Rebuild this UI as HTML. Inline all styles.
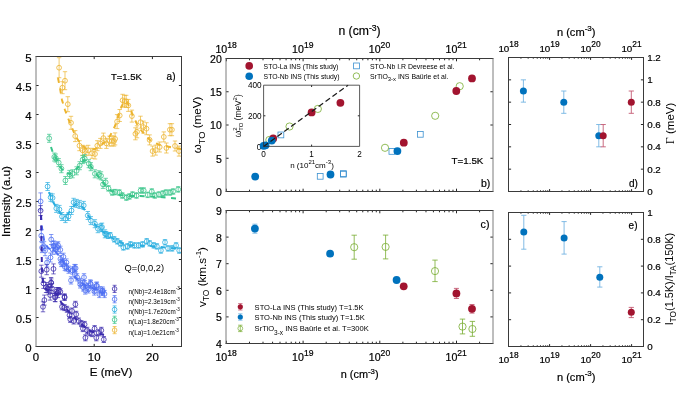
<!DOCTYPE html>
<html><head><meta charset="utf-8"><style>
html,body{margin:0;padding:0;background:#fff;}
svg{display:block;will-change:transform;}
text{font-family:"Liberation Sans", sans-serif;} .b{stroke:#000;stroke-width:0.2px;}
</style></head><body>
<svg width="685" height="394" viewBox="0 0 685 394">
<defs><clipPath id="clipA"><rect x="36" y="56.5" width="145.5" height="290.0"/></clipPath></defs>
<rect width="685" height="394" fill="#fff"/>
<line x1="36.00" y1="317.50" x2="38.60" y2="317.50" stroke="#262626" stroke-width="1" />
<line x1="178.90" y1="317.50" x2="181.50" y2="317.50" stroke="#262626" stroke-width="1" />
<line x1="36.00" y1="288.50" x2="38.60" y2="288.50" stroke="#262626" stroke-width="1" />
<line x1="178.90" y1="288.50" x2="181.50" y2="288.50" stroke="#262626" stroke-width="1" />
<line x1="36.00" y1="259.50" x2="38.60" y2="259.50" stroke="#262626" stroke-width="1" />
<line x1="178.90" y1="259.50" x2="181.50" y2="259.50" stroke="#262626" stroke-width="1" />
<line x1="36.00" y1="230.50" x2="38.60" y2="230.50" stroke="#262626" stroke-width="1" />
<line x1="178.90" y1="230.50" x2="181.50" y2="230.50" stroke="#262626" stroke-width="1" />
<line x1="36.00" y1="201.50" x2="38.60" y2="201.50" stroke="#262626" stroke-width="1" />
<line x1="178.90" y1="201.50" x2="181.50" y2="201.50" stroke="#262626" stroke-width="1" />
<line x1="36.00" y1="172.50" x2="38.60" y2="172.50" stroke="#262626" stroke-width="1" />
<line x1="178.90" y1="172.50" x2="181.50" y2="172.50" stroke="#262626" stroke-width="1" />
<line x1="36.00" y1="143.50" x2="38.60" y2="143.50" stroke="#262626" stroke-width="1" />
<line x1="178.90" y1="143.50" x2="181.50" y2="143.50" stroke="#262626" stroke-width="1" />
<line x1="36.00" y1="114.50" x2="38.60" y2="114.50" stroke="#262626" stroke-width="1" />
<line x1="178.90" y1="114.50" x2="181.50" y2="114.50" stroke="#262626" stroke-width="1" />
<line x1="36.00" y1="85.50" x2="38.60" y2="85.50" stroke="#262626" stroke-width="1" />
<line x1="178.90" y1="85.50" x2="181.50" y2="85.50" stroke="#262626" stroke-width="1" />
<line x1="94.20" y1="346.50" x2="94.20" y2="343.90" stroke="#262626" stroke-width="1" />
<line x1="94.20" y1="56.50" x2="94.20" y2="59.10" stroke="#262626" stroke-width="1" />
<line x1="152.40" y1="346.50" x2="152.40" y2="343.90" stroke="#262626" stroke-width="1" />
<line x1="152.40" y1="56.50" x2="152.40" y2="59.10" stroke="#262626" stroke-width="1" />
<text class="b" x="31.60" y="351.50" font-size="11.4" text-anchor="end" fill="#000">0</text>
<text class="b" x="31.60" y="322.50" font-size="11.4" text-anchor="end" fill="#000">0.5</text>
<text class="b" x="31.60" y="293.50" font-size="11.4" text-anchor="end" fill="#000">1</text>
<text class="b" x="31.60" y="264.50" font-size="11.4" text-anchor="end" fill="#000">1.5</text>
<text class="b" x="31.60" y="235.50" font-size="11.4" text-anchor="end" fill="#000">2</text>
<text class="b" x="31.60" y="206.50" font-size="11.4" text-anchor="end" fill="#000">2.5</text>
<text class="b" x="31.60" y="177.50" font-size="11.4" text-anchor="end" fill="#000">3</text>
<text class="b" x="31.60" y="148.50" font-size="11.4" text-anchor="end" fill="#000">3.5</text>
<text class="b" x="31.60" y="119.50" font-size="11.4" text-anchor="end" fill="#000">4</text>
<text class="b" x="31.60" y="90.50" font-size="11.4" text-anchor="end" fill="#000">4.5</text>
<text class="b" x="31.60" y="61.50" font-size="11.4" text-anchor="end" fill="#000">5</text>
<text class="b" x="36.00" y="361.30" font-size="11.4" text-anchor="middle" fill="#000">0</text>
<text class="b" x="94.20" y="361.30" font-size="11.4" text-anchor="middle" fill="#000">10</text>
<text class="b" x="152.40" y="361.30" font-size="11.4" text-anchor="middle" fill="#000">20</text>
<text class="b" x="111.00" y="376.40" font-size="11.6" text-anchor="middle" fill="#000">E (meV)</text>
<text class="b" x="9.90" y="201.50" font-size="11.7" text-anchor="middle" fill="#000" transform="rotate(-90 9.90 201.50)">Intensity (a.u)</text>
<text class="b" x="110.90" y="79.50" font-size="9.5" text-anchor="start" fill="#000">T=1.5K</text>
<text class="b" x="166.60" y="79.70" font-size="10" text-anchor="start" fill="#000">a)</text>
<text x="124.50" y="271.00" font-size="9.3" text-anchor="start" fill="#000">Q=(0,0,2)</text>
<g clip-path="url(#clipA)">
<line x1="59.10" y1="57.70" x2="59.10" y2="77.70" stroke="#ecb42f" stroke-width="0.7" />
<line x1="56.90" y1="57.70" x2="61.30" y2="57.70" stroke="#ecb42f" stroke-width="0.7" />
<line x1="56.90" y1="77.70" x2="61.30" y2="77.70" stroke="#ecb42f" stroke-width="0.7" />
<circle cx="59.10" cy="67.70" r="2.4" fill="none" stroke="#ecb42f" stroke-width="0.8"/>
<line x1="62.40" y1="81.70" x2="62.40" y2="93.70" stroke="#ecb42f" stroke-width="0.7" />
<line x1="60.20" y1="81.70" x2="64.60" y2="81.70" stroke="#ecb42f" stroke-width="0.7" />
<line x1="60.20" y1="93.70" x2="64.60" y2="93.70" stroke="#ecb42f" stroke-width="0.7" />
<circle cx="62.40" cy="87.70" r="2.4" fill="none" stroke="#ecb42f" stroke-width="0.8"/>
<line x1="65.00" y1="71.70" x2="65.00" y2="89.70" stroke="#ecb42f" stroke-width="0.7" />
<line x1="62.80" y1="71.70" x2="67.20" y2="71.70" stroke="#ecb42f" stroke-width="0.7" />
<line x1="62.80" y1="89.70" x2="67.20" y2="89.70" stroke="#ecb42f" stroke-width="0.7" />
<circle cx="65.00" cy="80.70" r="2.4" fill="none" stroke="#ecb42f" stroke-width="0.8"/>
<line x1="67.80" y1="96.70" x2="67.80" y2="111.70" stroke="#ecb42f" stroke-width="0.7" />
<line x1="65.60" y1="96.70" x2="70.00" y2="96.70" stroke="#ecb42f" stroke-width="0.7" />
<line x1="65.60" y1="111.70" x2="70.00" y2="111.70" stroke="#ecb42f" stroke-width="0.7" />
<circle cx="67.80" cy="104.20" r="2.4" fill="none" stroke="#ecb42f" stroke-width="0.8"/>
<line x1="71.00" y1="116.30" x2="71.00" y2="129.30" stroke="#ecb42f" stroke-width="0.7" />
<line x1="68.80" y1="116.30" x2="73.20" y2="116.30" stroke="#ecb42f" stroke-width="0.7" />
<line x1="68.80" y1="129.30" x2="73.20" y2="129.30" stroke="#ecb42f" stroke-width="0.7" />
<circle cx="71.00" cy="122.80" r="2.4" fill="none" stroke="#ecb42f" stroke-width="0.8"/>
<line x1="75.20" y1="130.60" x2="75.20" y2="141.60" stroke="#ecb42f" stroke-width="0.7" />
<line x1="73.00" y1="130.60" x2="77.40" y2="130.60" stroke="#ecb42f" stroke-width="0.7" />
<line x1="73.00" y1="141.60" x2="77.40" y2="141.60" stroke="#ecb42f" stroke-width="0.7" />
<circle cx="75.20" cy="136.10" r="2.4" fill="none" stroke="#ecb42f" stroke-width="0.8"/>
<line x1="79.50" y1="140.70" x2="79.50" y2="150.70" stroke="#ecb42f" stroke-width="0.7" />
<line x1="77.30" y1="140.70" x2="81.70" y2="140.70" stroke="#ecb42f" stroke-width="0.7" />
<line x1="77.30" y1="150.70" x2="81.70" y2="150.70" stroke="#ecb42f" stroke-width="0.7" />
<circle cx="79.50" cy="145.70" r="2.4" fill="none" stroke="#ecb42f" stroke-width="0.8"/>
<line x1="82.50" y1="145.30" x2="82.50" y2="155.30" stroke="#ecb42f" stroke-width="0.7" />
<line x1="80.30" y1="145.30" x2="84.70" y2="145.30" stroke="#ecb42f" stroke-width="0.7" />
<line x1="80.30" y1="155.30" x2="84.70" y2="155.30" stroke="#ecb42f" stroke-width="0.7" />
<circle cx="82.50" cy="150.30" r="2.4" fill="none" stroke="#ecb42f" stroke-width="0.8"/>
<line x1="85.10" y1="146.00" x2="85.10" y2="156.00" stroke="#ecb42f" stroke-width="0.7" />
<line x1="82.90" y1="146.00" x2="87.30" y2="146.00" stroke="#ecb42f" stroke-width="0.7" />
<line x1="82.90" y1="156.00" x2="87.30" y2="156.00" stroke="#ecb42f" stroke-width="0.7" />
<circle cx="85.10" cy="151.00" r="2.4" fill="none" stroke="#ecb42f" stroke-width="0.8"/>
<line x1="88.20" y1="145.30" x2="88.20" y2="155.30" stroke="#ecb42f" stroke-width="0.7" />
<line x1="86.00" y1="145.30" x2="90.40" y2="145.30" stroke="#ecb42f" stroke-width="0.7" />
<line x1="86.00" y1="155.30" x2="90.40" y2="155.30" stroke="#ecb42f" stroke-width="0.7" />
<circle cx="88.20" cy="150.30" r="2.4" fill="none" stroke="#ecb42f" stroke-width="0.8"/>
<line x1="92.00" y1="148.30" x2="92.00" y2="158.30" stroke="#ecb42f" stroke-width="0.7" />
<line x1="89.80" y1="148.30" x2="94.20" y2="148.30" stroke="#ecb42f" stroke-width="0.7" />
<line x1="89.80" y1="158.30" x2="94.20" y2="158.30" stroke="#ecb42f" stroke-width="0.7" />
<circle cx="92.00" cy="153.30" r="2.4" fill="none" stroke="#ecb42f" stroke-width="0.8"/>
<line x1="95.00" y1="149.00" x2="95.00" y2="159.00" stroke="#ecb42f" stroke-width="0.7" />
<line x1="92.80" y1="149.00" x2="97.20" y2="149.00" stroke="#ecb42f" stroke-width="0.7" />
<line x1="92.80" y1="159.00" x2="97.20" y2="159.00" stroke="#ecb42f" stroke-width="0.7" />
<circle cx="95.00" cy="154.00" r="2.4" fill="none" stroke="#ecb42f" stroke-width="0.8"/>
<line x1="97.30" y1="140.70" x2="97.30" y2="150.70" stroke="#ecb42f" stroke-width="0.7" />
<line x1="95.10" y1="140.70" x2="99.50" y2="140.70" stroke="#ecb42f" stroke-width="0.7" />
<line x1="95.10" y1="150.70" x2="99.50" y2="150.70" stroke="#ecb42f" stroke-width="0.7" />
<circle cx="97.30" cy="145.70" r="2.4" fill="none" stroke="#ecb42f" stroke-width="0.8"/>
<line x1="100.40" y1="138.40" x2="100.40" y2="148.40" stroke="#ecb42f" stroke-width="0.7" />
<line x1="98.20" y1="138.40" x2="102.60" y2="138.40" stroke="#ecb42f" stroke-width="0.7" />
<line x1="98.20" y1="148.40" x2="102.60" y2="148.40" stroke="#ecb42f" stroke-width="0.7" />
<circle cx="100.40" cy="143.40" r="2.4" fill="none" stroke="#ecb42f" stroke-width="0.8"/>
<line x1="103.40" y1="133.10" x2="103.40" y2="143.10" stroke="#ecb42f" stroke-width="0.7" />
<line x1="101.20" y1="133.10" x2="105.60" y2="133.10" stroke="#ecb42f" stroke-width="0.7" />
<line x1="101.20" y1="143.10" x2="105.60" y2="143.10" stroke="#ecb42f" stroke-width="0.7" />
<circle cx="103.40" cy="138.10" r="2.4" fill="none" stroke="#ecb42f" stroke-width="0.8"/>
<line x1="106.40" y1="138.40" x2="106.40" y2="148.40" stroke="#ecb42f" stroke-width="0.7" />
<line x1="104.20" y1="138.40" x2="108.60" y2="138.40" stroke="#ecb42f" stroke-width="0.7" />
<line x1="104.20" y1="148.40" x2="108.60" y2="148.40" stroke="#ecb42f" stroke-width="0.7" />
<circle cx="106.40" cy="143.40" r="2.4" fill="none" stroke="#ecb42f" stroke-width="0.8"/>
<line x1="109.50" y1="136.10" x2="109.50" y2="146.10" stroke="#ecb42f" stroke-width="0.7" />
<line x1="107.30" y1="136.10" x2="111.70" y2="136.10" stroke="#ecb42f" stroke-width="0.7" />
<line x1="107.30" y1="146.10" x2="111.70" y2="146.10" stroke="#ecb42f" stroke-width="0.7" />
<circle cx="109.50" cy="141.10" r="2.4" fill="none" stroke="#ecb42f" stroke-width="0.8"/>
<line x1="112.00" y1="135.90" x2="112.00" y2="145.90" stroke="#ecb42f" stroke-width="0.7" />
<line x1="109.80" y1="135.90" x2="114.20" y2="135.90" stroke="#ecb42f" stroke-width="0.7" />
<line x1="109.80" y1="145.90" x2="114.20" y2="145.90" stroke="#ecb42f" stroke-width="0.7" />
<circle cx="112.00" cy="140.90" r="2.4" fill="none" stroke="#ecb42f" stroke-width="0.8"/>
<line x1="114.00" y1="136.10" x2="114.00" y2="146.10" stroke="#ecb42f" stroke-width="0.7" />
<line x1="111.80" y1="136.10" x2="116.20" y2="136.10" stroke="#ecb42f" stroke-width="0.7" />
<line x1="111.80" y1="146.10" x2="116.20" y2="146.10" stroke="#ecb42f" stroke-width="0.7" />
<circle cx="114.00" cy="141.10" r="2.4" fill="none" stroke="#ecb42f" stroke-width="0.8"/>
<line x1="115.10" y1="132.90" x2="115.10" y2="144.90" stroke="#ecb42f" stroke-width="0.7" />
<line x1="112.90" y1="132.90" x2="117.30" y2="132.90" stroke="#ecb42f" stroke-width="0.7" />
<line x1="112.90" y1="144.90" x2="117.30" y2="144.90" stroke="#ecb42f" stroke-width="0.7" />
<circle cx="115.10" cy="138.90" r="2.4" fill="none" stroke="#ecb42f" stroke-width="0.8"/>
<line x1="117.10" y1="114.60" x2="117.10" y2="128.60" stroke="#ecb42f" stroke-width="0.7" />
<line x1="114.90" y1="114.60" x2="119.30" y2="114.60" stroke="#ecb42f" stroke-width="0.7" />
<line x1="114.90" y1="128.60" x2="119.30" y2="128.60" stroke="#ecb42f" stroke-width="0.7" />
<circle cx="117.10" cy="121.60" r="2.4" fill="none" stroke="#ecb42f" stroke-width="0.8"/>
<line x1="119.70" y1="109.50" x2="119.70" y2="121.50" stroke="#ecb42f" stroke-width="0.7" />
<line x1="117.50" y1="109.50" x2="121.90" y2="109.50" stroke="#ecb42f" stroke-width="0.7" />
<line x1="117.50" y1="121.50" x2="121.90" y2="121.50" stroke="#ecb42f" stroke-width="0.7" />
<circle cx="119.70" cy="115.50" r="2.4" fill="none" stroke="#ecb42f" stroke-width="0.8"/>
<line x1="122.60" y1="94.30" x2="122.60" y2="106.30" stroke="#ecb42f" stroke-width="0.7" />
<line x1="120.40" y1="94.30" x2="124.80" y2="94.30" stroke="#ecb42f" stroke-width="0.7" />
<line x1="120.40" y1="106.30" x2="124.80" y2="106.30" stroke="#ecb42f" stroke-width="0.7" />
<circle cx="122.60" cy="100.30" r="2.4" fill="none" stroke="#ecb42f" stroke-width="0.8"/>
<line x1="124.60" y1="95.30" x2="124.60" y2="107.30" stroke="#ecb42f" stroke-width="0.7" />
<line x1="122.40" y1="95.30" x2="126.80" y2="95.30" stroke="#ecb42f" stroke-width="0.7" />
<line x1="122.40" y1="107.30" x2="126.80" y2="107.30" stroke="#ecb42f" stroke-width="0.7" />
<circle cx="124.60" cy="101.30" r="2.4" fill="none" stroke="#ecb42f" stroke-width="0.8"/>
<line x1="126.20" y1="95.30" x2="126.20" y2="107.30" stroke="#ecb42f" stroke-width="0.7" />
<line x1="124.00" y1="95.30" x2="128.40" y2="95.30" stroke="#ecb42f" stroke-width="0.7" />
<line x1="124.00" y1="107.30" x2="128.40" y2="107.30" stroke="#ecb42f" stroke-width="0.7" />
<circle cx="126.20" cy="101.30" r="2.4" fill="none" stroke="#ecb42f" stroke-width="0.8"/>
<line x1="128.30" y1="99.40" x2="128.30" y2="111.40" stroke="#ecb42f" stroke-width="0.7" />
<line x1="126.10" y1="99.40" x2="130.50" y2="99.40" stroke="#ecb42f" stroke-width="0.7" />
<line x1="126.10" y1="111.40" x2="130.50" y2="111.40" stroke="#ecb42f" stroke-width="0.7" />
<circle cx="128.30" cy="105.40" r="2.4" fill="none" stroke="#ecb42f" stroke-width="0.8"/>
<line x1="131.90" y1="110.10" x2="131.90" y2="122.10" stroke="#ecb42f" stroke-width="0.7" />
<line x1="129.70" y1="110.10" x2="134.10" y2="110.10" stroke="#ecb42f" stroke-width="0.7" />
<line x1="129.70" y1="122.10" x2="134.10" y2="122.10" stroke="#ecb42f" stroke-width="0.7" />
<circle cx="131.90" cy="116.10" r="2.4" fill="none" stroke="#ecb42f" stroke-width="0.8"/>
<line x1="135.40" y1="127.80" x2="135.40" y2="139.80" stroke="#ecb42f" stroke-width="0.7" />
<line x1="133.20" y1="127.80" x2="137.60" y2="127.80" stroke="#ecb42f" stroke-width="0.7" />
<line x1="133.20" y1="139.80" x2="137.60" y2="139.80" stroke="#ecb42f" stroke-width="0.7" />
<circle cx="135.40" cy="133.80" r="2.4" fill="none" stroke="#ecb42f" stroke-width="0.8"/>
<line x1="137.00" y1="125.80" x2="137.00" y2="137.80" stroke="#ecb42f" stroke-width="0.7" />
<line x1="134.80" y1="125.80" x2="139.20" y2="125.80" stroke="#ecb42f" stroke-width="0.7" />
<line x1="134.80" y1="137.80" x2="139.20" y2="137.80" stroke="#ecb42f" stroke-width="0.7" />
<circle cx="137.00" cy="131.80" r="2.4" fill="none" stroke="#ecb42f" stroke-width="0.8"/>
<line x1="140.50" y1="116.20" x2="140.50" y2="128.20" stroke="#ecb42f" stroke-width="0.7" />
<line x1="138.30" y1="116.20" x2="142.70" y2="116.20" stroke="#ecb42f" stroke-width="0.7" />
<line x1="138.30" y1="128.20" x2="142.70" y2="128.20" stroke="#ecb42f" stroke-width="0.7" />
<circle cx="140.50" cy="122.20" r="2.4" fill="none" stroke="#ecb42f" stroke-width="0.8"/>
<line x1="143.50" y1="121.10" x2="143.50" y2="133.10" stroke="#ecb42f" stroke-width="0.7" />
<line x1="141.30" y1="121.10" x2="145.70" y2="121.10" stroke="#ecb42f" stroke-width="0.7" />
<line x1="141.30" y1="133.10" x2="145.70" y2="133.10" stroke="#ecb42f" stroke-width="0.7" />
<circle cx="143.50" cy="127.10" r="2.4" fill="none" stroke="#ecb42f" stroke-width="0.8"/>
<line x1="146.50" y1="122.70" x2="146.50" y2="134.70" stroke="#ecb42f" stroke-width="0.7" />
<line x1="144.30" y1="122.70" x2="148.70" y2="122.70" stroke="#ecb42f" stroke-width="0.7" />
<line x1="144.30" y1="134.70" x2="148.70" y2="134.70" stroke="#ecb42f" stroke-width="0.7" />
<circle cx="146.50" cy="128.70" r="2.4" fill="none" stroke="#ecb42f" stroke-width="0.8"/>
<line x1="149.60" y1="134.90" x2="149.60" y2="144.90" stroke="#ecb42f" stroke-width="0.7" />
<line x1="147.40" y1="134.90" x2="151.80" y2="134.90" stroke="#ecb42f" stroke-width="0.7" />
<line x1="147.40" y1="144.90" x2="151.80" y2="144.90" stroke="#ecb42f" stroke-width="0.7" />
<circle cx="149.60" cy="139.90" r="2.4" fill="none" stroke="#ecb42f" stroke-width="0.8"/>
<line x1="152.60" y1="146.10" x2="152.60" y2="156.10" stroke="#ecb42f" stroke-width="0.7" />
<line x1="150.40" y1="146.10" x2="154.80" y2="146.10" stroke="#ecb42f" stroke-width="0.7" />
<line x1="150.40" y1="156.10" x2="154.80" y2="156.10" stroke="#ecb42f" stroke-width="0.7" />
<circle cx="152.60" cy="151.10" r="2.4" fill="none" stroke="#ecb42f" stroke-width="0.8"/>
<line x1="155.70" y1="145.10" x2="155.70" y2="155.10" stroke="#ecb42f" stroke-width="0.7" />
<line x1="153.50" y1="145.10" x2="157.90" y2="145.10" stroke="#ecb42f" stroke-width="0.7" />
<line x1="153.50" y1="155.10" x2="157.90" y2="155.10" stroke="#ecb42f" stroke-width="0.7" />
<circle cx="155.70" cy="150.10" r="2.4" fill="none" stroke="#ecb42f" stroke-width="0.8"/>
<line x1="159.70" y1="142.00" x2="159.70" y2="152.00" stroke="#ecb42f" stroke-width="0.7" />
<line x1="157.50" y1="142.00" x2="161.90" y2="142.00" stroke="#ecb42f" stroke-width="0.7" />
<line x1="157.50" y1="152.00" x2="161.90" y2="152.00" stroke="#ecb42f" stroke-width="0.7" />
<circle cx="159.70" cy="147.00" r="2.4" fill="none" stroke="#ecb42f" stroke-width="0.8"/>
<line x1="163.80" y1="131.90" x2="163.80" y2="141.90" stroke="#ecb42f" stroke-width="0.7" />
<line x1="161.60" y1="131.90" x2="166.00" y2="131.90" stroke="#ecb42f" stroke-width="0.7" />
<line x1="161.60" y1="141.90" x2="166.00" y2="141.90" stroke="#ecb42f" stroke-width="0.7" />
<circle cx="163.80" cy="136.90" r="2.4" fill="none" stroke="#ecb42f" stroke-width="0.8"/>
<line x1="166.40" y1="143.00" x2="166.40" y2="153.00" stroke="#ecb42f" stroke-width="0.7" />
<line x1="164.20" y1="143.00" x2="168.60" y2="143.00" stroke="#ecb42f" stroke-width="0.7" />
<line x1="164.20" y1="153.00" x2="168.60" y2="153.00" stroke="#ecb42f" stroke-width="0.7" />
<circle cx="166.40" cy="148.00" r="2.4" fill="none" stroke="#ecb42f" stroke-width="0.8"/>
<line x1="169.90" y1="123.70" x2="169.90" y2="135.70" stroke="#ecb42f" stroke-width="0.7" />
<line x1="167.70" y1="123.70" x2="172.10" y2="123.70" stroke="#ecb42f" stroke-width="0.7" />
<line x1="167.70" y1="135.70" x2="172.10" y2="135.70" stroke="#ecb42f" stroke-width="0.7" />
<circle cx="169.90" cy="129.70" r="2.4" fill="none" stroke="#ecb42f" stroke-width="0.8"/>
<line x1="171.90" y1="123.70" x2="171.90" y2="135.70" stroke="#ecb42f" stroke-width="0.7" />
<line x1="169.70" y1="123.70" x2="174.10" y2="123.70" stroke="#ecb42f" stroke-width="0.7" />
<line x1="169.70" y1="135.70" x2="174.10" y2="135.70" stroke="#ecb42f" stroke-width="0.7" />
<circle cx="171.90" cy="129.70" r="2.4" fill="none" stroke="#ecb42f" stroke-width="0.8"/>
<line x1="175.00" y1="141.00" x2="175.00" y2="151.00" stroke="#ecb42f" stroke-width="0.7" />
<line x1="172.80" y1="141.00" x2="177.20" y2="141.00" stroke="#ecb42f" stroke-width="0.7" />
<line x1="172.80" y1="151.00" x2="177.20" y2="151.00" stroke="#ecb42f" stroke-width="0.7" />
<circle cx="175.00" cy="146.00" r="2.4" fill="none" stroke="#ecb42f" stroke-width="0.8"/>
<line x1="179.00" y1="146.10" x2="179.00" y2="156.10" stroke="#ecb42f" stroke-width="0.7" />
<line x1="176.80" y1="146.10" x2="181.20" y2="146.10" stroke="#ecb42f" stroke-width="0.7" />
<line x1="176.80" y1="156.10" x2="181.20" y2="156.10" stroke="#ecb42f" stroke-width="0.7" />
<circle cx="179.00" cy="151.10" r="2.4" fill="none" stroke="#ecb42f" stroke-width="0.8"/>
<path d="M58.00,78.00 L60.00,88.00 L62.00,100.00 L65.00,110.00 L68.00,118.00 L72.00,128.00 L76.00,137.00 L80.00,143.00 L85.00,148.00 L90.00,150.00 L95.00,149.00 L100.00,146.00 L105.00,142.00 L110.00,136.00 L115.00,126.00 L118.00,117.00 L121.00,108.00 L124.00,101.00 L127.00,102.00 L130.00,108.00 L133.00,116.00 L137.00,124.00 L141.00,130.00 L145.00,135.00 L150.00,140.00 L155.00,143.00 L160.00,145.00 L165.00,146.00 L170.00,147.00 L175.00,148.00 L181.50,149.00" fill="none" stroke="#ecb42f" stroke-width="2.0" stroke-dasharray="5 5.5" />
<line x1="49.20" y1="134.30" x2="49.20" y2="142.30" stroke="#36c488" stroke-width="0.7" />
<line x1="47.00" y1="134.30" x2="51.40" y2="134.30" stroke="#36c488" stroke-width="0.7" />
<line x1="47.00" y1="142.30" x2="51.40" y2="142.30" stroke="#36c488" stroke-width="0.7" />
<circle cx="49.20" cy="138.30" r="2.4" fill="none" stroke="#36c488" stroke-width="0.8"/>
<line x1="54.30" y1="153.00" x2="54.30" y2="161.00" stroke="#36c488" stroke-width="0.7" />
<line x1="52.10" y1="153.00" x2="56.50" y2="153.00" stroke="#36c488" stroke-width="0.7" />
<line x1="52.10" y1="161.00" x2="56.50" y2="161.00" stroke="#36c488" stroke-width="0.7" />
<circle cx="54.30" cy="157.00" r="2.4" fill="none" stroke="#36c488" stroke-width="0.8"/>
<line x1="55.70" y1="154.00" x2="55.70" y2="162.00" stroke="#36c488" stroke-width="0.7" />
<line x1="53.50" y1="154.00" x2="57.90" y2="154.00" stroke="#36c488" stroke-width="0.7" />
<line x1="53.50" y1="162.00" x2="57.90" y2="162.00" stroke="#36c488" stroke-width="0.7" />
<circle cx="55.70" cy="158.00" r="2.4" fill="none" stroke="#36c488" stroke-width="0.8"/>
<line x1="58.70" y1="158.60" x2="58.70" y2="166.60" stroke="#36c488" stroke-width="0.7" />
<line x1="56.50" y1="158.60" x2="60.90" y2="158.60" stroke="#36c488" stroke-width="0.7" />
<line x1="56.50" y1="166.60" x2="60.90" y2="166.60" stroke="#36c488" stroke-width="0.7" />
<circle cx="58.70" cy="162.60" r="2.4" fill="none" stroke="#36c488" stroke-width="0.8"/>
<line x1="61.40" y1="164.70" x2="61.40" y2="172.70" stroke="#36c488" stroke-width="0.7" />
<line x1="59.20" y1="164.70" x2="63.60" y2="164.70" stroke="#36c488" stroke-width="0.7" />
<line x1="59.20" y1="172.70" x2="63.60" y2="172.70" stroke="#36c488" stroke-width="0.7" />
<circle cx="61.40" cy="168.70" r="2.4" fill="none" stroke="#36c488" stroke-width="0.8"/>
<line x1="65.40" y1="176.50" x2="65.40" y2="184.50" stroke="#36c488" stroke-width="0.7" />
<line x1="63.20" y1="176.50" x2="67.60" y2="176.50" stroke="#36c488" stroke-width="0.7" />
<line x1="63.20" y1="184.50" x2="67.60" y2="184.50" stroke="#36c488" stroke-width="0.7" />
<circle cx="65.40" cy="180.50" r="2.4" fill="none" stroke="#36c488" stroke-width="0.8"/>
<line x1="69.50" y1="170.40" x2="69.50" y2="178.40" stroke="#36c488" stroke-width="0.7" />
<line x1="67.30" y1="170.40" x2="71.70" y2="170.40" stroke="#36c488" stroke-width="0.7" />
<line x1="67.30" y1="178.40" x2="71.70" y2="178.40" stroke="#36c488" stroke-width="0.7" />
<circle cx="69.50" cy="174.40" r="2.4" fill="none" stroke="#36c488" stroke-width="0.8"/>
<line x1="72.50" y1="169.80" x2="72.50" y2="177.80" stroke="#36c488" stroke-width="0.7" />
<line x1="70.30" y1="169.80" x2="74.70" y2="169.80" stroke="#36c488" stroke-width="0.7" />
<line x1="70.30" y1="177.80" x2="74.70" y2="177.80" stroke="#36c488" stroke-width="0.7" />
<circle cx="72.50" cy="173.80" r="2.4" fill="none" stroke="#36c488" stroke-width="0.8"/>
<line x1="76.60" y1="166.80" x2="76.60" y2="174.80" stroke="#36c488" stroke-width="0.7" />
<line x1="74.40" y1="166.80" x2="78.80" y2="166.80" stroke="#36c488" stroke-width="0.7" />
<line x1="74.40" y1="174.80" x2="78.80" y2="174.80" stroke="#36c488" stroke-width="0.7" />
<circle cx="76.60" cy="170.80" r="2.4" fill="none" stroke="#36c488" stroke-width="0.8"/>
<line x1="79.70" y1="161.70" x2="79.70" y2="169.70" stroke="#36c488" stroke-width="0.7" />
<line x1="77.50" y1="161.70" x2="81.90" y2="161.70" stroke="#36c488" stroke-width="0.7" />
<line x1="77.50" y1="169.70" x2="81.90" y2="169.70" stroke="#36c488" stroke-width="0.7" />
<circle cx="79.70" cy="165.70" r="2.4" fill="none" stroke="#36c488" stroke-width="0.8"/>
<line x1="82.70" y1="155.60" x2="82.70" y2="163.60" stroke="#36c488" stroke-width="0.7" />
<line x1="80.50" y1="155.60" x2="84.90" y2="155.60" stroke="#36c488" stroke-width="0.7" />
<line x1="80.50" y1="163.60" x2="84.90" y2="163.60" stroke="#36c488" stroke-width="0.7" />
<circle cx="82.70" cy="159.60" r="2.4" fill="none" stroke="#36c488" stroke-width="0.8"/>
<line x1="84.70" y1="154.60" x2="84.70" y2="162.60" stroke="#36c488" stroke-width="0.7" />
<line x1="82.50" y1="154.60" x2="86.90" y2="154.60" stroke="#36c488" stroke-width="0.7" />
<line x1="82.50" y1="162.60" x2="86.90" y2="162.60" stroke="#36c488" stroke-width="0.7" />
<circle cx="84.70" cy="158.60" r="2.4" fill="none" stroke="#36c488" stroke-width="0.8"/>
<line x1="88.80" y1="159.70" x2="88.80" y2="167.70" stroke="#36c488" stroke-width="0.7" />
<line x1="86.60" y1="159.70" x2="91.00" y2="159.70" stroke="#36c488" stroke-width="0.7" />
<line x1="86.60" y1="167.70" x2="91.00" y2="167.70" stroke="#36c488" stroke-width="0.7" />
<circle cx="88.80" cy="163.70" r="2.4" fill="none" stroke="#36c488" stroke-width="0.8"/>
<line x1="90.80" y1="162.70" x2="90.80" y2="170.70" stroke="#36c488" stroke-width="0.7" />
<line x1="88.60" y1="162.70" x2="93.00" y2="162.70" stroke="#36c488" stroke-width="0.7" />
<line x1="88.60" y1="170.70" x2="93.00" y2="170.70" stroke="#36c488" stroke-width="0.7" />
<circle cx="90.80" cy="166.70" r="2.4" fill="none" stroke="#36c488" stroke-width="0.8"/>
<line x1="94.90" y1="169.80" x2="94.90" y2="177.80" stroke="#36c488" stroke-width="0.7" />
<line x1="92.70" y1="169.80" x2="97.10" y2="169.80" stroke="#36c488" stroke-width="0.7" />
<line x1="92.70" y1="177.80" x2="97.10" y2="177.80" stroke="#36c488" stroke-width="0.7" />
<circle cx="94.90" cy="173.80" r="2.4" fill="none" stroke="#36c488" stroke-width="0.8"/>
<line x1="98.90" y1="170.80" x2="98.90" y2="178.80" stroke="#36c488" stroke-width="0.7" />
<line x1="96.70" y1="170.80" x2="101.10" y2="170.80" stroke="#36c488" stroke-width="0.7" />
<line x1="96.70" y1="178.80" x2="101.10" y2="178.80" stroke="#36c488" stroke-width="0.7" />
<circle cx="98.90" cy="174.80" r="2.4" fill="none" stroke="#36c488" stroke-width="0.8"/>
<line x1="101.00" y1="171.80" x2="101.00" y2="179.80" stroke="#36c488" stroke-width="0.7" />
<line x1="98.80" y1="171.80" x2="103.20" y2="171.80" stroke="#36c488" stroke-width="0.7" />
<line x1="98.80" y1="179.80" x2="103.20" y2="179.80" stroke="#36c488" stroke-width="0.7" />
<circle cx="101.00" cy="175.80" r="2.4" fill="none" stroke="#36c488" stroke-width="0.8"/>
<line x1="103.00" y1="180.40" x2="103.00" y2="188.40" stroke="#36c488" stroke-width="0.7" />
<line x1="100.80" y1="180.40" x2="105.20" y2="180.40" stroke="#36c488" stroke-width="0.7" />
<line x1="100.80" y1="188.40" x2="105.20" y2="188.40" stroke="#36c488" stroke-width="0.7" />
<circle cx="103.00" cy="184.40" r="2.4" fill="none" stroke="#36c488" stroke-width="0.8"/>
<line x1="105.70" y1="178.30" x2="105.70" y2="186.30" stroke="#36c488" stroke-width="0.7" />
<line x1="103.50" y1="178.30" x2="107.90" y2="178.30" stroke="#36c488" stroke-width="0.7" />
<line x1="103.50" y1="186.30" x2="107.90" y2="186.30" stroke="#36c488" stroke-width="0.7" />
<circle cx="105.70" cy="182.30" r="2.4" fill="none" stroke="#36c488" stroke-width="0.8"/>
<line x1="108.50" y1="185.70" x2="108.50" y2="191.10" stroke="#36c488" stroke-width="0.7" />
<line x1="106.30" y1="185.70" x2="110.70" y2="185.70" stroke="#36c488" stroke-width="0.7" />
<line x1="106.30" y1="191.10" x2="110.70" y2="191.10" stroke="#36c488" stroke-width="0.7" />
<circle cx="108.50" cy="188.40" r="2.4" fill="none" stroke="#36c488" stroke-width="0.8"/>
<line x1="112.20" y1="189.80" x2="112.20" y2="195.20" stroke="#36c488" stroke-width="0.7" />
<line x1="110.00" y1="189.80" x2="114.40" y2="189.80" stroke="#36c488" stroke-width="0.7" />
<line x1="110.00" y1="195.20" x2="114.40" y2="195.20" stroke="#36c488" stroke-width="0.7" />
<circle cx="112.20" cy="192.50" r="2.4" fill="none" stroke="#36c488" stroke-width="0.8"/>
<line x1="115.20" y1="189.40" x2="115.20" y2="194.80" stroke="#36c488" stroke-width="0.7" />
<line x1="113.00" y1="189.40" x2="117.40" y2="189.40" stroke="#36c488" stroke-width="0.7" />
<line x1="113.00" y1="194.80" x2="117.40" y2="194.80" stroke="#36c488" stroke-width="0.7" />
<circle cx="115.20" cy="192.10" r="2.4" fill="none" stroke="#36c488" stroke-width="0.8"/>
<line x1="119.30" y1="189.80" x2="119.30" y2="195.20" stroke="#36c488" stroke-width="0.7" />
<line x1="117.10" y1="189.80" x2="121.50" y2="189.80" stroke="#36c488" stroke-width="0.7" />
<line x1="117.10" y1="195.20" x2="121.50" y2="195.20" stroke="#36c488" stroke-width="0.7" />
<circle cx="119.30" cy="192.50" r="2.4" fill="none" stroke="#36c488" stroke-width="0.8"/>
<line x1="122.30" y1="192.80" x2="122.30" y2="198.20" stroke="#36c488" stroke-width="0.7" />
<line x1="120.10" y1="192.80" x2="124.50" y2="192.80" stroke="#36c488" stroke-width="0.7" />
<line x1="120.10" y1="198.20" x2="124.50" y2="198.20" stroke="#36c488" stroke-width="0.7" />
<circle cx="122.30" cy="195.50" r="2.4" fill="none" stroke="#36c488" stroke-width="0.8"/>
<line x1="126.40" y1="194.90" x2="126.40" y2="200.30" stroke="#36c488" stroke-width="0.7" />
<line x1="124.20" y1="194.90" x2="128.60" y2="194.90" stroke="#36c488" stroke-width="0.7" />
<line x1="124.20" y1="200.30" x2="128.60" y2="200.30" stroke="#36c488" stroke-width="0.7" />
<circle cx="126.40" cy="197.60" r="2.4" fill="none" stroke="#36c488" stroke-width="0.8"/>
<line x1="129.40" y1="193.80" x2="129.40" y2="199.20" stroke="#36c488" stroke-width="0.7" />
<line x1="127.20" y1="193.80" x2="131.60" y2="193.80" stroke="#36c488" stroke-width="0.7" />
<line x1="127.20" y1="199.20" x2="131.60" y2="199.20" stroke="#36c488" stroke-width="0.7" />
<circle cx="129.40" cy="196.50" r="2.4" fill="none" stroke="#36c488" stroke-width="0.8"/>
<line x1="132.50" y1="191.80" x2="132.50" y2="197.20" stroke="#36c488" stroke-width="0.7" />
<line x1="130.30" y1="191.80" x2="134.70" y2="191.80" stroke="#36c488" stroke-width="0.7" />
<line x1="130.30" y1="197.20" x2="134.70" y2="197.20" stroke="#36c488" stroke-width="0.7" />
<circle cx="132.50" cy="194.50" r="2.4" fill="none" stroke="#36c488" stroke-width="0.8"/>
<line x1="136.50" y1="192.80" x2="136.50" y2="198.20" stroke="#36c488" stroke-width="0.7" />
<line x1="134.30" y1="192.80" x2="138.70" y2="192.80" stroke="#36c488" stroke-width="0.7" />
<line x1="134.30" y1="198.20" x2="138.70" y2="198.20" stroke="#36c488" stroke-width="0.7" />
<circle cx="136.50" cy="195.50" r="2.4" fill="none" stroke="#36c488" stroke-width="0.8"/>
<line x1="140.60" y1="187.80" x2="140.60" y2="193.20" stroke="#36c488" stroke-width="0.7" />
<line x1="138.40" y1="187.80" x2="142.80" y2="187.80" stroke="#36c488" stroke-width="0.7" />
<line x1="138.40" y1="193.20" x2="142.80" y2="193.20" stroke="#36c488" stroke-width="0.7" />
<circle cx="140.60" cy="190.50" r="2.4" fill="none" stroke="#36c488" stroke-width="0.8"/>
<line x1="143.70" y1="187.80" x2="143.70" y2="193.20" stroke="#36c488" stroke-width="0.7" />
<line x1="141.50" y1="187.80" x2="145.90" y2="187.80" stroke="#36c488" stroke-width="0.7" />
<line x1="141.50" y1="193.20" x2="145.90" y2="193.20" stroke="#36c488" stroke-width="0.7" />
<circle cx="143.70" cy="190.50" r="2.4" fill="none" stroke="#36c488" stroke-width="0.8"/>
<line x1="147.70" y1="192.20" x2="147.70" y2="197.60" stroke="#36c488" stroke-width="0.7" />
<line x1="145.50" y1="192.20" x2="149.90" y2="192.20" stroke="#36c488" stroke-width="0.7" />
<line x1="145.50" y1="197.60" x2="149.90" y2="197.60" stroke="#36c488" stroke-width="0.7" />
<circle cx="147.70" cy="194.90" r="2.4" fill="none" stroke="#36c488" stroke-width="0.8"/>
<line x1="151.80" y1="188.80" x2="151.80" y2="194.20" stroke="#36c488" stroke-width="0.7" />
<line x1="149.60" y1="188.80" x2="154.00" y2="188.80" stroke="#36c488" stroke-width="0.7" />
<line x1="149.60" y1="194.20" x2="154.00" y2="194.20" stroke="#36c488" stroke-width="0.7" />
<circle cx="151.80" cy="191.50" r="2.4" fill="none" stroke="#36c488" stroke-width="0.8"/>
<line x1="154.80" y1="192.80" x2="154.80" y2="198.20" stroke="#36c488" stroke-width="0.7" />
<line x1="152.60" y1="192.80" x2="157.00" y2="192.80" stroke="#36c488" stroke-width="0.7" />
<line x1="152.60" y1="198.20" x2="157.00" y2="198.20" stroke="#36c488" stroke-width="0.7" />
<circle cx="154.80" cy="195.50" r="2.4" fill="none" stroke="#36c488" stroke-width="0.8"/>
<line x1="158.90" y1="191.80" x2="158.90" y2="197.20" stroke="#36c488" stroke-width="0.7" />
<line x1="156.70" y1="191.80" x2="161.10" y2="191.80" stroke="#36c488" stroke-width="0.7" />
<line x1="156.70" y1="197.20" x2="161.10" y2="197.20" stroke="#36c488" stroke-width="0.7" />
<circle cx="158.90" cy="194.50" r="2.4" fill="none" stroke="#36c488" stroke-width="0.8"/>
<line x1="162.90" y1="190.80" x2="162.90" y2="196.20" stroke="#36c488" stroke-width="0.7" />
<line x1="160.70" y1="190.80" x2="165.10" y2="190.80" stroke="#36c488" stroke-width="0.7" />
<line x1="160.70" y1="196.20" x2="165.10" y2="196.20" stroke="#36c488" stroke-width="0.7" />
<circle cx="162.90" cy="193.50" r="2.4" fill="none" stroke="#36c488" stroke-width="0.8"/>
<line x1="166.00" y1="189.80" x2="166.00" y2="195.20" stroke="#36c488" stroke-width="0.7" />
<line x1="163.80" y1="189.80" x2="168.20" y2="189.80" stroke="#36c488" stroke-width="0.7" />
<line x1="163.80" y1="195.20" x2="168.20" y2="195.20" stroke="#36c488" stroke-width="0.7" />
<circle cx="166.00" cy="192.50" r="2.4" fill="none" stroke="#36c488" stroke-width="0.8"/>
<line x1="170.00" y1="189.80" x2="170.00" y2="195.20" stroke="#36c488" stroke-width="0.7" />
<line x1="167.80" y1="189.80" x2="172.20" y2="189.80" stroke="#36c488" stroke-width="0.7" />
<line x1="167.80" y1="195.20" x2="172.20" y2="195.20" stroke="#36c488" stroke-width="0.7" />
<circle cx="170.00" cy="192.50" r="2.4" fill="none" stroke="#36c488" stroke-width="0.8"/>
<line x1="173.10" y1="188.80" x2="173.10" y2="194.20" stroke="#36c488" stroke-width="0.7" />
<line x1="170.90" y1="188.80" x2="175.30" y2="188.80" stroke="#36c488" stroke-width="0.7" />
<line x1="170.90" y1="194.20" x2="175.30" y2="194.20" stroke="#36c488" stroke-width="0.7" />
<circle cx="173.10" cy="191.50" r="2.4" fill="none" stroke="#36c488" stroke-width="0.8"/>
<line x1="178.20" y1="186.70" x2="178.20" y2="192.10" stroke="#36c488" stroke-width="0.7" />
<line x1="176.00" y1="186.70" x2="180.40" y2="186.70" stroke="#36c488" stroke-width="0.7" />
<line x1="176.00" y1="192.10" x2="180.40" y2="192.10" stroke="#36c488" stroke-width="0.7" />
<circle cx="178.20" cy="189.40" r="2.4" fill="none" stroke="#36c488" stroke-width="0.8"/>
<path d="M51.00,147.00 L53.00,153.00 L57.00,160.00 L61.00,168.00 L65.00,173.00 L70.00,174.00 L75.00,171.00 L80.00,165.00 L84.00,160.00 L87.00,161.00 L90.00,165.00 L95.00,172.00 L100.00,179.00 L105.00,185.00 L110.00,190.00 L115.00,193.00 L120.00,195.00 L130.00,196.00 L140.00,196.00 L150.00,196.50 L160.00,197.00 L170.00,198.00 L181.50,199.00" fill="none" stroke="#36c488" stroke-width="2.0" stroke-dasharray="5 5.5" />
<line x1="47.60" y1="182.50" x2="47.60" y2="190.50" stroke="#2aaee0" stroke-width="0.7" />
<line x1="45.40" y1="182.50" x2="49.80" y2="182.50" stroke="#2aaee0" stroke-width="0.7" />
<line x1="45.40" y1="190.50" x2="49.80" y2="190.50" stroke="#2aaee0" stroke-width="0.7" />
<circle cx="47.60" cy="186.50" r="2.4" fill="none" stroke="#2aaee0" stroke-width="0.8"/>
<line x1="50.60" y1="193.30" x2="50.60" y2="201.30" stroke="#2aaee0" stroke-width="0.7" />
<line x1="48.40" y1="193.30" x2="52.80" y2="193.30" stroke="#2aaee0" stroke-width="0.7" />
<line x1="48.40" y1="201.30" x2="52.80" y2="201.30" stroke="#2aaee0" stroke-width="0.7" />
<circle cx="50.60" cy="197.30" r="2.4" fill="none" stroke="#2aaee0" stroke-width="0.8"/>
<line x1="52.60" y1="193.90" x2="52.60" y2="201.90" stroke="#2aaee0" stroke-width="0.7" />
<line x1="50.40" y1="193.90" x2="54.80" y2="193.90" stroke="#2aaee0" stroke-width="0.7" />
<line x1="50.40" y1="201.90" x2="54.80" y2="201.90" stroke="#2aaee0" stroke-width="0.7" />
<circle cx="52.60" cy="197.90" r="2.4" fill="none" stroke="#2aaee0" stroke-width="0.8"/>
<line x1="56.30" y1="204.40" x2="56.30" y2="212.40" stroke="#2aaee0" stroke-width="0.7" />
<line x1="54.10" y1="204.40" x2="58.50" y2="204.40" stroke="#2aaee0" stroke-width="0.7" />
<line x1="54.10" y1="212.40" x2="58.50" y2="212.40" stroke="#2aaee0" stroke-width="0.7" />
<circle cx="56.30" cy="208.40" r="2.4" fill="none" stroke="#2aaee0" stroke-width="0.8"/>
<line x1="59.40" y1="205.40" x2="59.40" y2="213.40" stroke="#2aaee0" stroke-width="0.7" />
<line x1="57.20" y1="205.40" x2="61.60" y2="205.40" stroke="#2aaee0" stroke-width="0.7" />
<line x1="57.20" y1="213.40" x2="61.60" y2="213.40" stroke="#2aaee0" stroke-width="0.7" />
<circle cx="59.40" cy="209.40" r="2.4" fill="none" stroke="#2aaee0" stroke-width="0.8"/>
<line x1="62.00" y1="212.50" x2="62.00" y2="220.50" stroke="#2aaee0" stroke-width="0.7" />
<line x1="59.80" y1="212.50" x2="64.20" y2="212.50" stroke="#2aaee0" stroke-width="0.7" />
<line x1="59.80" y1="220.50" x2="64.20" y2="220.50" stroke="#2aaee0" stroke-width="0.7" />
<circle cx="62.00" cy="216.50" r="2.4" fill="none" stroke="#2aaee0" stroke-width="0.8"/>
<line x1="65.40" y1="214.60" x2="65.40" y2="222.60" stroke="#2aaee0" stroke-width="0.7" />
<line x1="63.20" y1="214.60" x2="67.60" y2="214.60" stroke="#2aaee0" stroke-width="0.7" />
<line x1="63.20" y1="222.60" x2="67.60" y2="222.60" stroke="#2aaee0" stroke-width="0.7" />
<circle cx="65.40" cy="218.60" r="2.4" fill="none" stroke="#2aaee0" stroke-width="0.8"/>
<line x1="68.50" y1="212.50" x2="68.50" y2="220.50" stroke="#2aaee0" stroke-width="0.7" />
<line x1="66.30" y1="212.50" x2="70.70" y2="212.50" stroke="#2aaee0" stroke-width="0.7" />
<line x1="66.30" y1="220.50" x2="70.70" y2="220.50" stroke="#2aaee0" stroke-width="0.7" />
<circle cx="68.50" cy="216.50" r="2.4" fill="none" stroke="#2aaee0" stroke-width="0.8"/>
<line x1="71.50" y1="206.50" x2="71.50" y2="214.50" stroke="#2aaee0" stroke-width="0.7" />
<line x1="69.30" y1="206.50" x2="73.70" y2="206.50" stroke="#2aaee0" stroke-width="0.7" />
<line x1="69.30" y1="214.50" x2="73.70" y2="214.50" stroke="#2aaee0" stroke-width="0.7" />
<circle cx="71.50" cy="210.50" r="2.4" fill="none" stroke="#2aaee0" stroke-width="0.8"/>
<line x1="73.60" y1="198.30" x2="73.60" y2="206.30" stroke="#2aaee0" stroke-width="0.7" />
<line x1="71.40" y1="198.30" x2="75.80" y2="198.30" stroke="#2aaee0" stroke-width="0.7" />
<line x1="71.40" y1="206.30" x2="75.80" y2="206.30" stroke="#2aaee0" stroke-width="0.7" />
<circle cx="73.60" cy="202.30" r="2.4" fill="none" stroke="#2aaee0" stroke-width="0.8"/>
<line x1="76.60" y1="199.40" x2="76.60" y2="207.40" stroke="#2aaee0" stroke-width="0.7" />
<line x1="74.40" y1="199.40" x2="78.80" y2="199.40" stroke="#2aaee0" stroke-width="0.7" />
<line x1="74.40" y1="207.40" x2="78.80" y2="207.40" stroke="#2aaee0" stroke-width="0.7" />
<circle cx="76.60" cy="203.40" r="2.4" fill="none" stroke="#2aaee0" stroke-width="0.8"/>
<line x1="79.70" y1="200.40" x2="79.70" y2="208.40" stroke="#2aaee0" stroke-width="0.7" />
<line x1="77.50" y1="200.40" x2="81.90" y2="200.40" stroke="#2aaee0" stroke-width="0.7" />
<line x1="77.50" y1="208.40" x2="81.90" y2="208.40" stroke="#2aaee0" stroke-width="0.7" />
<circle cx="79.70" cy="204.40" r="2.4" fill="none" stroke="#2aaee0" stroke-width="0.8"/>
<line x1="83.70" y1="201.40" x2="83.70" y2="209.40" stroke="#2aaee0" stroke-width="0.7" />
<line x1="81.50" y1="201.40" x2="85.90" y2="201.40" stroke="#2aaee0" stroke-width="0.7" />
<line x1="81.50" y1="209.40" x2="85.90" y2="209.40" stroke="#2aaee0" stroke-width="0.7" />
<circle cx="83.70" cy="205.40" r="2.4" fill="none" stroke="#2aaee0" stroke-width="0.8"/>
<line x1="87.80" y1="211.50" x2="87.80" y2="219.50" stroke="#2aaee0" stroke-width="0.7" />
<line x1="85.60" y1="211.50" x2="90.00" y2="211.50" stroke="#2aaee0" stroke-width="0.7" />
<line x1="85.60" y1="219.50" x2="90.00" y2="219.50" stroke="#2aaee0" stroke-width="0.7" />
<circle cx="87.80" cy="215.50" r="2.4" fill="none" stroke="#2aaee0" stroke-width="0.8"/>
<line x1="90.80" y1="216.60" x2="90.80" y2="224.60" stroke="#2aaee0" stroke-width="0.7" />
<line x1="88.60" y1="216.60" x2="93.00" y2="216.60" stroke="#2aaee0" stroke-width="0.7" />
<line x1="88.60" y1="224.60" x2="93.00" y2="224.60" stroke="#2aaee0" stroke-width="0.7" />
<circle cx="90.80" cy="220.60" r="2.4" fill="none" stroke="#2aaee0" stroke-width="0.8"/>
<line x1="94.90" y1="219.70" x2="94.90" y2="227.70" stroke="#2aaee0" stroke-width="0.7" />
<line x1="92.70" y1="219.70" x2="97.10" y2="219.70" stroke="#2aaee0" stroke-width="0.7" />
<line x1="92.70" y1="227.70" x2="97.10" y2="227.70" stroke="#2aaee0" stroke-width="0.7" />
<circle cx="94.90" cy="223.70" r="2.4" fill="none" stroke="#2aaee0" stroke-width="0.8"/>
<line x1="97.90" y1="224.70" x2="97.90" y2="232.70" stroke="#2aaee0" stroke-width="0.7" />
<line x1="95.70" y1="224.70" x2="100.10" y2="224.70" stroke="#2aaee0" stroke-width="0.7" />
<line x1="95.70" y1="232.70" x2="100.10" y2="232.70" stroke="#2aaee0" stroke-width="0.7" />
<circle cx="97.90" cy="228.70" r="2.4" fill="none" stroke="#2aaee0" stroke-width="0.8"/>
<line x1="101.00" y1="223.70" x2="101.00" y2="231.70" stroke="#2aaee0" stroke-width="0.7" />
<line x1="98.80" y1="223.70" x2="103.20" y2="223.70" stroke="#2aaee0" stroke-width="0.7" />
<line x1="98.80" y1="231.70" x2="103.20" y2="231.70" stroke="#2aaee0" stroke-width="0.7" />
<circle cx="101.00" cy="227.70" r="2.4" fill="none" stroke="#2aaee0" stroke-width="0.8"/>
<line x1="102.00" y1="223.10" x2="102.00" y2="231.10" stroke="#2aaee0" stroke-width="0.7" />
<line x1="99.80" y1="223.10" x2="104.20" y2="223.10" stroke="#2aaee0" stroke-width="0.7" />
<line x1="99.80" y1="231.10" x2="104.20" y2="231.10" stroke="#2aaee0" stroke-width="0.7" />
<circle cx="102.00" cy="227.10" r="2.4" fill="none" stroke="#2aaee0" stroke-width="0.8"/>
<line x1="105.00" y1="229.80" x2="105.00" y2="237.80" stroke="#2aaee0" stroke-width="0.7" />
<line x1="102.80" y1="229.80" x2="107.20" y2="229.80" stroke="#2aaee0" stroke-width="0.7" />
<line x1="102.80" y1="237.80" x2="107.20" y2="237.80" stroke="#2aaee0" stroke-width="0.7" />
<circle cx="105.00" cy="233.80" r="2.4" fill="none" stroke="#2aaee0" stroke-width="0.8"/>
<line x1="106.10" y1="231.50" x2="106.10" y2="236.90" stroke="#2aaee0" stroke-width="0.7" />
<line x1="103.90" y1="231.50" x2="108.30" y2="231.50" stroke="#2aaee0" stroke-width="0.7" />
<line x1="103.90" y1="236.90" x2="108.30" y2="236.90" stroke="#2aaee0" stroke-width="0.7" />
<circle cx="106.10" cy="234.20" r="2.4" fill="none" stroke="#2aaee0" stroke-width="0.8"/>
<line x1="108.10" y1="233.10" x2="108.10" y2="238.50" stroke="#2aaee0" stroke-width="0.7" />
<line x1="105.90" y1="233.10" x2="110.30" y2="233.10" stroke="#2aaee0" stroke-width="0.7" />
<line x1="105.90" y1="238.50" x2="110.30" y2="238.50" stroke="#2aaee0" stroke-width="0.7" />
<circle cx="108.10" cy="235.80" r="2.4" fill="none" stroke="#2aaee0" stroke-width="0.8"/>
<line x1="110.20" y1="232.50" x2="110.20" y2="237.90" stroke="#2aaee0" stroke-width="0.7" />
<line x1="108.00" y1="232.50" x2="112.40" y2="232.50" stroke="#2aaee0" stroke-width="0.7" />
<line x1="108.00" y1="237.90" x2="112.40" y2="237.90" stroke="#2aaee0" stroke-width="0.7" />
<circle cx="110.20" cy="235.20" r="2.4" fill="none" stroke="#2aaee0" stroke-width="0.8"/>
<line x1="114.20" y1="236.60" x2="114.20" y2="242.00" stroke="#2aaee0" stroke-width="0.7" />
<line x1="112.00" y1="236.60" x2="116.40" y2="236.60" stroke="#2aaee0" stroke-width="0.7" />
<line x1="112.00" y1="242.00" x2="116.40" y2="242.00" stroke="#2aaee0" stroke-width="0.7" />
<circle cx="114.20" cy="239.30" r="2.4" fill="none" stroke="#2aaee0" stroke-width="0.8"/>
<line x1="117.30" y1="238.60" x2="117.30" y2="244.00" stroke="#2aaee0" stroke-width="0.7" />
<line x1="115.10" y1="238.60" x2="119.50" y2="238.60" stroke="#2aaee0" stroke-width="0.7" />
<line x1="115.10" y1="244.00" x2="119.50" y2="244.00" stroke="#2aaee0" stroke-width="0.7" />
<circle cx="117.30" cy="241.30" r="2.4" fill="none" stroke="#2aaee0" stroke-width="0.8"/>
<line x1="120.30" y1="240.70" x2="120.30" y2="246.10" stroke="#2aaee0" stroke-width="0.7" />
<line x1="118.10" y1="240.70" x2="122.50" y2="240.70" stroke="#2aaee0" stroke-width="0.7" />
<line x1="118.10" y1="246.10" x2="122.50" y2="246.10" stroke="#2aaee0" stroke-width="0.7" />
<circle cx="120.30" cy="243.40" r="2.4" fill="none" stroke="#2aaee0" stroke-width="0.8"/>
<line x1="123.40" y1="244.70" x2="123.40" y2="250.10" stroke="#2aaee0" stroke-width="0.7" />
<line x1="121.20" y1="244.70" x2="125.60" y2="244.70" stroke="#2aaee0" stroke-width="0.7" />
<line x1="121.20" y1="250.10" x2="125.60" y2="250.10" stroke="#2aaee0" stroke-width="0.7" />
<circle cx="123.40" cy="247.40" r="2.4" fill="none" stroke="#2aaee0" stroke-width="0.8"/>
<line x1="127.40" y1="243.70" x2="127.40" y2="249.10" stroke="#2aaee0" stroke-width="0.7" />
<line x1="125.20" y1="243.70" x2="129.60" y2="243.70" stroke="#2aaee0" stroke-width="0.7" />
<line x1="125.20" y1="249.10" x2="129.60" y2="249.10" stroke="#2aaee0" stroke-width="0.7" />
<circle cx="127.40" cy="246.40" r="2.4" fill="none" stroke="#2aaee0" stroke-width="0.8"/>
<line x1="130.50" y1="241.70" x2="130.50" y2="247.10" stroke="#2aaee0" stroke-width="0.7" />
<line x1="128.30" y1="241.70" x2="132.70" y2="241.70" stroke="#2aaee0" stroke-width="0.7" />
<line x1="128.30" y1="247.10" x2="132.70" y2="247.10" stroke="#2aaee0" stroke-width="0.7" />
<circle cx="130.50" cy="244.40" r="2.4" fill="none" stroke="#2aaee0" stroke-width="0.8"/>
<line x1="134.50" y1="242.70" x2="134.50" y2="248.10" stroke="#2aaee0" stroke-width="0.7" />
<line x1="132.30" y1="242.70" x2="136.70" y2="242.70" stroke="#2aaee0" stroke-width="0.7" />
<line x1="132.30" y1="248.10" x2="136.70" y2="248.10" stroke="#2aaee0" stroke-width="0.7" />
<circle cx="134.50" cy="245.40" r="2.4" fill="none" stroke="#2aaee0" stroke-width="0.8"/>
<line x1="138.60" y1="242.70" x2="138.60" y2="248.10" stroke="#2aaee0" stroke-width="0.7" />
<line x1="136.40" y1="242.70" x2="140.80" y2="242.70" stroke="#2aaee0" stroke-width="0.7" />
<line x1="136.40" y1="248.10" x2="140.80" y2="248.10" stroke="#2aaee0" stroke-width="0.7" />
<circle cx="138.60" cy="245.40" r="2.4" fill="none" stroke="#2aaee0" stroke-width="0.8"/>
<line x1="142.60" y1="241.70" x2="142.60" y2="247.10" stroke="#2aaee0" stroke-width="0.7" />
<line x1="140.40" y1="241.70" x2="144.80" y2="241.70" stroke="#2aaee0" stroke-width="0.7" />
<line x1="140.40" y1="247.10" x2="144.80" y2="247.10" stroke="#2aaee0" stroke-width="0.7" />
<circle cx="142.60" cy="244.40" r="2.4" fill="none" stroke="#2aaee0" stroke-width="0.8"/>
<line x1="146.70" y1="238.60" x2="146.70" y2="244.00" stroke="#2aaee0" stroke-width="0.7" />
<line x1="144.50" y1="238.60" x2="148.90" y2="238.60" stroke="#2aaee0" stroke-width="0.7" />
<line x1="144.50" y1="244.00" x2="148.90" y2="244.00" stroke="#2aaee0" stroke-width="0.7" />
<circle cx="146.70" cy="241.30" r="2.4" fill="none" stroke="#2aaee0" stroke-width="0.8"/>
<line x1="149.70" y1="240.70" x2="149.70" y2="246.10" stroke="#2aaee0" stroke-width="0.7" />
<line x1="147.50" y1="240.70" x2="151.90" y2="240.70" stroke="#2aaee0" stroke-width="0.7" />
<line x1="147.50" y1="246.10" x2="151.90" y2="246.10" stroke="#2aaee0" stroke-width="0.7" />
<circle cx="149.70" cy="243.40" r="2.4" fill="none" stroke="#2aaee0" stroke-width="0.8"/>
<line x1="153.80" y1="242.70" x2="153.80" y2="248.10" stroke="#2aaee0" stroke-width="0.7" />
<line x1="151.60" y1="242.70" x2="156.00" y2="242.70" stroke="#2aaee0" stroke-width="0.7" />
<line x1="151.60" y1="248.10" x2="156.00" y2="248.10" stroke="#2aaee0" stroke-width="0.7" />
<circle cx="153.80" cy="245.40" r="2.4" fill="none" stroke="#2aaee0" stroke-width="0.8"/>
<line x1="156.90" y1="243.70" x2="156.90" y2="249.10" stroke="#2aaee0" stroke-width="0.7" />
<line x1="154.70" y1="243.70" x2="159.10" y2="243.70" stroke="#2aaee0" stroke-width="0.7" />
<line x1="154.70" y1="249.10" x2="159.10" y2="249.10" stroke="#2aaee0" stroke-width="0.7" />
<circle cx="156.90" cy="246.40" r="2.4" fill="none" stroke="#2aaee0" stroke-width="0.8"/>
<line x1="160.90" y1="247.80" x2="160.90" y2="253.20" stroke="#2aaee0" stroke-width="0.7" />
<line x1="158.70" y1="247.80" x2="163.10" y2="247.80" stroke="#2aaee0" stroke-width="0.7" />
<line x1="158.70" y1="253.20" x2="163.10" y2="253.20" stroke="#2aaee0" stroke-width="0.7" />
<circle cx="160.90" cy="250.50" r="2.4" fill="none" stroke="#2aaee0" stroke-width="0.8"/>
<line x1="165.00" y1="239.60" x2="165.00" y2="245.00" stroke="#2aaee0" stroke-width="0.7" />
<line x1="162.80" y1="239.60" x2="167.20" y2="239.60" stroke="#2aaee0" stroke-width="0.7" />
<line x1="162.80" y1="245.00" x2="167.20" y2="245.00" stroke="#2aaee0" stroke-width="0.7" />
<circle cx="165.00" cy="242.30" r="2.4" fill="none" stroke="#2aaee0" stroke-width="0.8"/>
<line x1="168.00" y1="245.70" x2="168.00" y2="251.10" stroke="#2aaee0" stroke-width="0.7" />
<line x1="165.80" y1="245.70" x2="170.20" y2="245.70" stroke="#2aaee0" stroke-width="0.7" />
<line x1="165.80" y1="251.10" x2="170.20" y2="251.10" stroke="#2aaee0" stroke-width="0.7" />
<circle cx="168.00" cy="248.40" r="2.4" fill="none" stroke="#2aaee0" stroke-width="0.8"/>
<line x1="172.10" y1="245.70" x2="172.10" y2="251.10" stroke="#2aaee0" stroke-width="0.7" />
<line x1="169.90" y1="245.70" x2="174.30" y2="245.70" stroke="#2aaee0" stroke-width="0.7" />
<line x1="169.90" y1="251.10" x2="174.30" y2="251.10" stroke="#2aaee0" stroke-width="0.7" />
<circle cx="172.10" cy="248.40" r="2.4" fill="none" stroke="#2aaee0" stroke-width="0.8"/>
<line x1="176.10" y1="242.70" x2="176.10" y2="248.10" stroke="#2aaee0" stroke-width="0.7" />
<line x1="173.90" y1="242.70" x2="178.30" y2="242.70" stroke="#2aaee0" stroke-width="0.7" />
<line x1="173.90" y1="248.10" x2="178.30" y2="248.10" stroke="#2aaee0" stroke-width="0.7" />
<circle cx="176.10" cy="245.40" r="2.4" fill="none" stroke="#2aaee0" stroke-width="0.8"/>
<line x1="179.20" y1="247.80" x2="179.20" y2="253.20" stroke="#2aaee0" stroke-width="0.7" />
<line x1="177.00" y1="247.80" x2="181.40" y2="247.80" stroke="#2aaee0" stroke-width="0.7" />
<line x1="177.00" y1="253.20" x2="181.40" y2="253.20" stroke="#2aaee0" stroke-width="0.7" />
<circle cx="179.20" cy="250.50" r="2.4" fill="none" stroke="#2aaee0" stroke-width="0.8"/>
<path d="M49.00,192.00 L52.00,200.00 L56.00,207.00 L60.00,213.00 L64.00,216.00 L68.00,214.00 L72.00,208.00 L76.00,204.00 L80.00,205.00 L84.00,209.00 L88.00,215.00 L92.00,221.00 L97.00,227.00 L102.00,231.00 L107.00,235.00 L112.00,238.00 L117.00,241.00 L122.00,243.00 L130.00,245.00 L140.00,245.50 L150.00,246.00 L160.00,247.00 L170.00,248.00 L181.50,249.00" fill="none" stroke="#2aaee0" stroke-width="2.0" stroke-dasharray="5 5.5" />
<line x1="40.60" y1="192.90" x2="40.60" y2="209.90" stroke="#4d6ef2" stroke-width="0.7" />
<line x1="38.40" y1="192.90" x2="42.80" y2="192.90" stroke="#4d6ef2" stroke-width="0.7" />
<line x1="38.40" y1="209.90" x2="42.80" y2="209.90" stroke="#4d6ef2" stroke-width="0.7" />
<circle cx="40.60" cy="201.40" r="2.4" fill="none" stroke="#4d6ef2" stroke-width="0.8"/>
<line x1="41.30" y1="229.70" x2="41.30" y2="241.70" stroke="#4d6ef2" stroke-width="0.7" />
<line x1="39.10" y1="229.70" x2="43.50" y2="229.70" stroke="#4d6ef2" stroke-width="0.7" />
<line x1="39.10" y1="241.70" x2="43.50" y2="241.70" stroke="#4d6ef2" stroke-width="0.7" />
<circle cx="41.30" cy="235.70" r="2.4" fill="none" stroke="#4d6ef2" stroke-width="0.8"/>
<line x1="42.10" y1="242.60" x2="42.10" y2="252.60" stroke="#4d6ef2" stroke-width="0.7" />
<line x1="39.90" y1="242.60" x2="44.30" y2="242.60" stroke="#4d6ef2" stroke-width="0.7" />
<line x1="39.90" y1="252.60" x2="44.30" y2="252.60" stroke="#4d6ef2" stroke-width="0.7" />
<circle cx="42.10" cy="247.60" r="2.4" fill="none" stroke="#4d6ef2" stroke-width="0.8"/>
<line x1="45.10" y1="245.70" x2="45.10" y2="255.70" stroke="#4d6ef2" stroke-width="0.7" />
<line x1="42.90" y1="245.70" x2="47.30" y2="245.70" stroke="#4d6ef2" stroke-width="0.7" />
<line x1="42.90" y1="255.70" x2="47.30" y2="255.70" stroke="#4d6ef2" stroke-width="0.7" />
<circle cx="45.10" cy="250.70" r="2.4" fill="none" stroke="#4d6ef2" stroke-width="0.8"/>
<line x1="50.50" y1="253.00" x2="50.50" y2="262.00" stroke="#4d6ef2" stroke-width="0.7" />
<line x1="48.30" y1="253.00" x2="52.70" y2="253.00" stroke="#4d6ef2" stroke-width="0.7" />
<line x1="48.30" y1="262.00" x2="52.70" y2="262.00" stroke="#4d6ef2" stroke-width="0.7" />
<circle cx="50.50" cy="257.50" r="2.4" fill="none" stroke="#4d6ef2" stroke-width="0.8"/>
<line x1="51.20" y1="234.50" x2="51.20" y2="244.50" stroke="#4d6ef2" stroke-width="0.7" />
<line x1="49.00" y1="234.50" x2="53.40" y2="234.50" stroke="#4d6ef2" stroke-width="0.7" />
<line x1="49.00" y1="244.50" x2="53.40" y2="244.50" stroke="#4d6ef2" stroke-width="0.7" />
<circle cx="51.20" cy="239.50" r="2.4" fill="none" stroke="#4d6ef2" stroke-width="0.8"/>
<line x1="53.50" y1="241.10" x2="53.50" y2="251.10" stroke="#4d6ef2" stroke-width="0.7" />
<line x1="51.30" y1="241.10" x2="55.70" y2="241.10" stroke="#4d6ef2" stroke-width="0.7" />
<line x1="51.30" y1="251.10" x2="55.70" y2="251.10" stroke="#4d6ef2" stroke-width="0.7" />
<circle cx="53.50" cy="246.10" r="2.4" fill="none" stroke="#4d6ef2" stroke-width="0.8"/>
<line x1="55.80" y1="244.10" x2="55.80" y2="254.10" stroke="#4d6ef2" stroke-width="0.7" />
<line x1="53.60" y1="244.10" x2="58.00" y2="244.10" stroke="#4d6ef2" stroke-width="0.7" />
<line x1="53.60" y1="254.10" x2="58.00" y2="254.10" stroke="#4d6ef2" stroke-width="0.7" />
<circle cx="55.80" cy="249.10" r="2.4" fill="none" stroke="#4d6ef2" stroke-width="0.8"/>
<line x1="58.10" y1="241.70" x2="58.10" y2="248.90" stroke="#4d6ef2" stroke-width="0.7" />
<line x1="55.90" y1="241.70" x2="60.30" y2="241.70" stroke="#4d6ef2" stroke-width="0.7" />
<line x1="55.90" y1="248.90" x2="60.30" y2="248.90" stroke="#4d6ef2" stroke-width="0.7" />
<circle cx="58.10" cy="245.30" r="2.4" fill="none" stroke="#4d6ef2" stroke-width="0.8"/>
<line x1="60.40" y1="255.40" x2="60.40" y2="262.60" stroke="#4d6ef2" stroke-width="0.7" />
<line x1="58.20" y1="255.40" x2="62.60" y2="255.40" stroke="#4d6ef2" stroke-width="0.7" />
<line x1="58.20" y1="262.60" x2="62.60" y2="262.60" stroke="#4d6ef2" stroke-width="0.7" />
<circle cx="60.40" cy="259.00" r="2.4" fill="none" stroke="#4d6ef2" stroke-width="0.8"/>
<line x1="62.60" y1="259.20" x2="62.60" y2="266.40" stroke="#4d6ef2" stroke-width="0.7" />
<line x1="60.40" y1="259.20" x2="64.80" y2="259.20" stroke="#4d6ef2" stroke-width="0.7" />
<line x1="60.40" y1="266.40" x2="64.80" y2="266.40" stroke="#4d6ef2" stroke-width="0.7" />
<circle cx="62.60" cy="262.80" r="2.4" fill="none" stroke="#4d6ef2" stroke-width="0.8"/>
<line x1="63.40" y1="253.20" x2="63.40" y2="260.40" stroke="#4d6ef2" stroke-width="0.7" />
<line x1="61.20" y1="253.20" x2="65.60" y2="253.20" stroke="#4d6ef2" stroke-width="0.7" />
<line x1="61.20" y1="260.40" x2="65.60" y2="260.40" stroke="#4d6ef2" stroke-width="0.7" />
<circle cx="63.40" cy="256.80" r="2.4" fill="none" stroke="#4d6ef2" stroke-width="0.8"/>
<line x1="66.50" y1="263.80" x2="66.50" y2="271.00" stroke="#4d6ef2" stroke-width="0.7" />
<line x1="64.30" y1="263.80" x2="68.70" y2="263.80" stroke="#4d6ef2" stroke-width="0.7" />
<line x1="64.30" y1="271.00" x2="68.70" y2="271.00" stroke="#4d6ef2" stroke-width="0.7" />
<circle cx="66.50" cy="267.40" r="2.4" fill="none" stroke="#4d6ef2" stroke-width="0.8"/>
<line x1="68.70" y1="266.10" x2="68.70" y2="273.30" stroke="#4d6ef2" stroke-width="0.7" />
<line x1="66.50" y1="266.10" x2="70.90" y2="266.10" stroke="#4d6ef2" stroke-width="0.7" />
<line x1="66.50" y1="273.30" x2="70.90" y2="273.30" stroke="#4d6ef2" stroke-width="0.7" />
<circle cx="68.70" cy="269.70" r="2.4" fill="none" stroke="#4d6ef2" stroke-width="0.8"/>
<line x1="71.00" y1="276.80" x2="71.00" y2="284.00" stroke="#4d6ef2" stroke-width="0.7" />
<line x1="68.80" y1="276.80" x2="73.20" y2="276.80" stroke="#4d6ef2" stroke-width="0.7" />
<line x1="68.80" y1="284.00" x2="73.20" y2="284.00" stroke="#4d6ef2" stroke-width="0.7" />
<circle cx="71.00" cy="280.40" r="2.4" fill="none" stroke="#4d6ef2" stroke-width="0.8"/>
<line x1="72.50" y1="266.90" x2="72.50" y2="274.10" stroke="#4d6ef2" stroke-width="0.7" />
<line x1="70.30" y1="266.90" x2="74.70" y2="266.90" stroke="#4d6ef2" stroke-width="0.7" />
<line x1="70.30" y1="274.10" x2="74.70" y2="274.10" stroke="#4d6ef2" stroke-width="0.7" />
<circle cx="72.50" cy="270.50" r="2.4" fill="none" stroke="#4d6ef2" stroke-width="0.8"/>
<line x1="74.80" y1="270.70" x2="74.80" y2="277.90" stroke="#4d6ef2" stroke-width="0.7" />
<line x1="72.60" y1="270.70" x2="77.00" y2="270.70" stroke="#4d6ef2" stroke-width="0.7" />
<line x1="72.60" y1="277.90" x2="77.00" y2="277.90" stroke="#4d6ef2" stroke-width="0.7" />
<circle cx="74.80" cy="274.30" r="2.4" fill="none" stroke="#4d6ef2" stroke-width="0.8"/>
<line x1="75.60" y1="264.60" x2="75.60" y2="271.80" stroke="#4d6ef2" stroke-width="0.7" />
<line x1="73.40" y1="264.60" x2="77.80" y2="264.60" stroke="#4d6ef2" stroke-width="0.7" />
<line x1="73.40" y1="271.80" x2="77.80" y2="271.80" stroke="#4d6ef2" stroke-width="0.7" />
<circle cx="75.60" cy="268.20" r="2.4" fill="none" stroke="#4d6ef2" stroke-width="0.8"/>
<line x1="77.10" y1="273.70" x2="77.10" y2="280.90" stroke="#4d6ef2" stroke-width="0.7" />
<line x1="74.90" y1="273.70" x2="79.30" y2="273.70" stroke="#4d6ef2" stroke-width="0.7" />
<line x1="74.90" y1="280.90" x2="79.30" y2="280.90" stroke="#4d6ef2" stroke-width="0.7" />
<circle cx="77.10" cy="277.30" r="2.4" fill="none" stroke="#4d6ef2" stroke-width="0.8"/>
<line x1="80.20" y1="278.30" x2="80.20" y2="285.50" stroke="#4d6ef2" stroke-width="0.7" />
<line x1="78.00" y1="278.30" x2="82.40" y2="278.30" stroke="#4d6ef2" stroke-width="0.7" />
<line x1="78.00" y1="285.50" x2="82.40" y2="285.50" stroke="#4d6ef2" stroke-width="0.7" />
<circle cx="80.20" cy="281.90" r="2.4" fill="none" stroke="#4d6ef2" stroke-width="0.8"/>
<line x1="84.00" y1="273.70" x2="84.00" y2="280.90" stroke="#4d6ef2" stroke-width="0.7" />
<line x1="81.80" y1="273.70" x2="86.20" y2="273.70" stroke="#4d6ef2" stroke-width="0.7" />
<line x1="81.80" y1="280.90" x2="86.20" y2="280.90" stroke="#4d6ef2" stroke-width="0.7" />
<circle cx="84.00" cy="277.30" r="2.4" fill="none" stroke="#4d6ef2" stroke-width="0.8"/>
<line x1="84.70" y1="280.60" x2="84.70" y2="287.80" stroke="#4d6ef2" stroke-width="0.7" />
<line x1="82.50" y1="280.60" x2="86.90" y2="280.60" stroke="#4d6ef2" stroke-width="0.7" />
<line x1="82.50" y1="287.80" x2="86.90" y2="287.80" stroke="#4d6ef2" stroke-width="0.7" />
<circle cx="84.70" cy="284.20" r="2.4" fill="none" stroke="#4d6ef2" stroke-width="0.8"/>
<line x1="87.80" y1="283.60" x2="87.80" y2="290.80" stroke="#4d6ef2" stroke-width="0.7" />
<line x1="85.60" y1="283.60" x2="90.00" y2="283.60" stroke="#4d6ef2" stroke-width="0.7" />
<line x1="85.60" y1="290.80" x2="90.00" y2="290.80" stroke="#4d6ef2" stroke-width="0.7" />
<circle cx="87.80" cy="287.20" r="2.4" fill="none" stroke="#4d6ef2" stroke-width="0.8"/>
<line x1="90.80" y1="280.60" x2="90.80" y2="287.80" stroke="#4d6ef2" stroke-width="0.7" />
<line x1="88.60" y1="280.60" x2="93.00" y2="280.60" stroke="#4d6ef2" stroke-width="0.7" />
<line x1="88.60" y1="287.80" x2="93.00" y2="287.80" stroke="#4d6ef2" stroke-width="0.7" />
<circle cx="90.80" cy="284.20" r="2.4" fill="none" stroke="#4d6ef2" stroke-width="0.8"/>
<line x1="93.90" y1="285.10" x2="93.90" y2="292.30" stroke="#4d6ef2" stroke-width="0.7" />
<line x1="91.70" y1="285.10" x2="96.10" y2="285.10" stroke="#4d6ef2" stroke-width="0.7" />
<line x1="91.70" y1="292.30" x2="96.10" y2="292.30" stroke="#4d6ef2" stroke-width="0.7" />
<circle cx="93.90" cy="288.70" r="2.4" fill="none" stroke="#4d6ef2" stroke-width="0.8"/>
<line x1="96.90" y1="282.10" x2="96.90" y2="289.30" stroke="#4d6ef2" stroke-width="0.7" />
<line x1="94.70" y1="282.10" x2="99.10" y2="282.10" stroke="#4d6ef2" stroke-width="0.7" />
<line x1="94.70" y1="289.30" x2="99.10" y2="289.30" stroke="#4d6ef2" stroke-width="0.7" />
<circle cx="96.90" cy="285.70" r="2.4" fill="none" stroke="#4d6ef2" stroke-width="0.8"/>
<line x1="100.00" y1="286.70" x2="100.00" y2="293.90" stroke="#4d6ef2" stroke-width="0.7" />
<line x1="97.80" y1="286.70" x2="102.20" y2="286.70" stroke="#4d6ef2" stroke-width="0.7" />
<line x1="97.80" y1="293.90" x2="102.20" y2="293.90" stroke="#4d6ef2" stroke-width="0.7" />
<circle cx="100.00" cy="290.30" r="2.4" fill="none" stroke="#4d6ef2" stroke-width="0.8"/>
<line x1="103.00" y1="288.20" x2="103.00" y2="295.40" stroke="#4d6ef2" stroke-width="0.7" />
<line x1="100.80" y1="288.20" x2="105.20" y2="288.20" stroke="#4d6ef2" stroke-width="0.7" />
<line x1="100.80" y1="295.40" x2="105.20" y2="295.40" stroke="#4d6ef2" stroke-width="0.7" />
<circle cx="103.00" cy="291.80" r="2.4" fill="none" stroke="#4d6ef2" stroke-width="0.8"/>
<line x1="104.50" y1="290.40" x2="104.50" y2="297.60" stroke="#4d6ef2" stroke-width="0.7" />
<line x1="102.30" y1="290.40" x2="106.70" y2="290.40" stroke="#4d6ef2" stroke-width="0.7" />
<line x1="102.30" y1="297.60" x2="106.70" y2="297.60" stroke="#4d6ef2" stroke-width="0.7" />
<circle cx="104.50" cy="294.00" r="2.4" fill="none" stroke="#4d6ef2" stroke-width="0.8"/>
<line x1="54.20" y1="241.20" x2="54.20" y2="250.20" stroke="#4d6ef2" stroke-width="0.7" />
<line x1="52.00" y1="241.20" x2="56.40" y2="241.20" stroke="#4d6ef2" stroke-width="0.7" />
<line x1="52.00" y1="250.20" x2="56.40" y2="250.20" stroke="#4d6ef2" stroke-width="0.7" />
<circle cx="54.20" cy="245.70" r="2.4" fill="none" stroke="#4d6ef2" stroke-width="0.8"/>
<line x1="52.70" y1="245.30" x2="52.70" y2="254.30" stroke="#4d6ef2" stroke-width="0.7" />
<line x1="50.50" y1="245.30" x2="54.90" y2="245.30" stroke="#4d6ef2" stroke-width="0.7" />
<line x1="50.50" y1="254.30" x2="54.90" y2="254.30" stroke="#4d6ef2" stroke-width="0.7" />
<circle cx="52.70" cy="249.80" r="2.4" fill="none" stroke="#4d6ef2" stroke-width="0.8"/>
<line x1="57.30" y1="242.70" x2="57.30" y2="251.70" stroke="#4d6ef2" stroke-width="0.7" />
<line x1="55.10" y1="242.70" x2="59.50" y2="242.70" stroke="#4d6ef2" stroke-width="0.7" />
<line x1="55.10" y1="251.70" x2="59.50" y2="251.70" stroke="#4d6ef2" stroke-width="0.7" />
<circle cx="57.30" cy="247.20" r="2.4" fill="none" stroke="#4d6ef2" stroke-width="0.8"/>
<line x1="60.30" y1="246.20" x2="60.30" y2="253.40" stroke="#4d6ef2" stroke-width="0.7" />
<line x1="58.10" y1="246.20" x2="62.50" y2="246.20" stroke="#4d6ef2" stroke-width="0.7" />
<line x1="58.10" y1="253.40" x2="62.50" y2="253.40" stroke="#4d6ef2" stroke-width="0.7" />
<circle cx="60.30" cy="249.80" r="2.4" fill="none" stroke="#4d6ef2" stroke-width="0.8"/>
<line x1="44.00" y1="241.70" x2="44.00" y2="250.70" stroke="#4d6ef2" stroke-width="0.7" />
<line x1="41.80" y1="241.70" x2="46.20" y2="241.70" stroke="#4d6ef2" stroke-width="0.7" />
<line x1="41.80" y1="250.70" x2="46.20" y2="250.70" stroke="#4d6ef2" stroke-width="0.7" />
<circle cx="44.00" cy="246.20" r="2.4" fill="none" stroke="#4d6ef2" stroke-width="0.8"/>
<line x1="61.30" y1="259.40" x2="61.30" y2="266.60" stroke="#4d6ef2" stroke-width="0.7" />
<line x1="59.10" y1="259.40" x2="63.50" y2="259.40" stroke="#4d6ef2" stroke-width="0.7" />
<line x1="59.10" y1="266.60" x2="63.50" y2="266.60" stroke="#4d6ef2" stroke-width="0.7" />
<circle cx="61.30" cy="263.00" r="2.4" fill="none" stroke="#4d6ef2" stroke-width="0.8"/>
<line x1="66.40" y1="258.90" x2="66.40" y2="266.10" stroke="#4d6ef2" stroke-width="0.7" />
<line x1="64.20" y1="258.90" x2="68.60" y2="258.90" stroke="#4d6ef2" stroke-width="0.7" />
<line x1="64.20" y1="266.10" x2="68.60" y2="266.10" stroke="#4d6ef2" stroke-width="0.7" />
<circle cx="66.40" cy="262.50" r="2.4" fill="none" stroke="#4d6ef2" stroke-width="0.8"/>
<line x1="64.90" y1="263.40" x2="64.90" y2="270.60" stroke="#4d6ef2" stroke-width="0.7" />
<line x1="62.70" y1="263.40" x2="67.10" y2="263.40" stroke="#4d6ef2" stroke-width="0.7" />
<line x1="62.70" y1="270.60" x2="67.10" y2="270.60" stroke="#4d6ef2" stroke-width="0.7" />
<circle cx="64.90" cy="267.00" r="2.4" fill="none" stroke="#4d6ef2" stroke-width="0.8"/>
<line x1="74.50" y1="264.40" x2="74.50" y2="271.60" stroke="#4d6ef2" stroke-width="0.7" />
<line x1="72.30" y1="264.40" x2="76.70" y2="264.40" stroke="#4d6ef2" stroke-width="0.7" />
<line x1="72.30" y1="271.60" x2="76.70" y2="271.60" stroke="#4d6ef2" stroke-width="0.7" />
<circle cx="74.50" cy="268.00" r="2.4" fill="none" stroke="#4d6ef2" stroke-width="0.8"/>
<line x1="47.10" y1="258.00" x2="47.10" y2="267.00" stroke="#4d6ef2" stroke-width="0.7" />
<line x1="44.90" y1="258.00" x2="49.30" y2="258.00" stroke="#4d6ef2" stroke-width="0.7" />
<line x1="44.90" y1="267.00" x2="49.30" y2="267.00" stroke="#4d6ef2" stroke-width="0.7" />
<circle cx="47.10" cy="262.50" r="2.4" fill="none" stroke="#4d6ef2" stroke-width="0.8"/>
<line x1="83.20" y1="283.80" x2="83.20" y2="291.00" stroke="#4d6ef2" stroke-width="0.7" />
<line x1="81.00" y1="283.80" x2="85.40" y2="283.80" stroke="#4d6ef2" stroke-width="0.7" />
<line x1="81.00" y1="291.00" x2="85.40" y2="291.00" stroke="#4d6ef2" stroke-width="0.7" />
<circle cx="83.20" cy="287.40" r="2.4" fill="none" stroke="#4d6ef2" stroke-width="0.8"/>
<line x1="88.30" y1="285.80" x2="88.30" y2="293.00" stroke="#4d6ef2" stroke-width="0.7" />
<line x1="86.10" y1="285.80" x2="90.50" y2="285.80" stroke="#4d6ef2" stroke-width="0.7" />
<line x1="86.10" y1="293.00" x2="90.50" y2="293.00" stroke="#4d6ef2" stroke-width="0.7" />
<circle cx="88.30" cy="289.40" r="2.4" fill="none" stroke="#4d6ef2" stroke-width="0.8"/>
<line x1="94.40" y1="287.90" x2="94.40" y2="295.10" stroke="#4d6ef2" stroke-width="0.7" />
<line x1="92.20" y1="287.90" x2="96.60" y2="287.90" stroke="#4d6ef2" stroke-width="0.7" />
<line x1="92.20" y1="295.10" x2="96.60" y2="295.10" stroke="#4d6ef2" stroke-width="0.7" />
<circle cx="94.40" cy="291.50" r="2.4" fill="none" stroke="#4d6ef2" stroke-width="0.8"/>
<line x1="99.40" y1="290.40" x2="99.40" y2="297.60" stroke="#4d6ef2" stroke-width="0.7" />
<line x1="97.20" y1="290.40" x2="101.60" y2="290.40" stroke="#4d6ef2" stroke-width="0.7" />
<line x1="97.20" y1="297.60" x2="101.60" y2="297.60" stroke="#4d6ef2" stroke-width="0.7" />
<circle cx="99.40" cy="294.00" r="2.4" fill="none" stroke="#4d6ef2" stroke-width="0.8"/>
<line x1="102.50" y1="286.90" x2="102.50" y2="294.10" stroke="#4d6ef2" stroke-width="0.7" />
<line x1="100.30" y1="286.90" x2="104.70" y2="286.90" stroke="#4d6ef2" stroke-width="0.7" />
<line x1="100.30" y1="294.10" x2="104.70" y2="294.10" stroke="#4d6ef2" stroke-width="0.7" />
<circle cx="102.50" cy="290.50" r="2.4" fill="none" stroke="#4d6ef2" stroke-width="0.8"/>
<line x1="85.20" y1="286.90" x2="85.20" y2="294.10" stroke="#4d6ef2" stroke-width="0.7" />
<line x1="83.00" y1="286.90" x2="87.40" y2="286.90" stroke="#4d6ef2" stroke-width="0.7" />
<line x1="83.00" y1="294.10" x2="87.40" y2="294.10" stroke="#4d6ef2" stroke-width="0.7" />
<circle cx="85.20" cy="290.50" r="2.4" fill="none" stroke="#4d6ef2" stroke-width="0.8"/>
<line x1="80.20" y1="280.80" x2="80.20" y2="288.00" stroke="#4d6ef2" stroke-width="0.7" />
<line x1="78.00" y1="280.80" x2="82.40" y2="280.80" stroke="#4d6ef2" stroke-width="0.7" />
<line x1="78.00" y1="288.00" x2="82.40" y2="288.00" stroke="#4d6ef2" stroke-width="0.7" />
<circle cx="80.20" cy="284.40" r="2.4" fill="none" stroke="#4d6ef2" stroke-width="0.8"/>
<line x1="96.40" y1="282.30" x2="96.40" y2="289.50" stroke="#4d6ef2" stroke-width="0.7" />
<line x1="94.20" y1="282.30" x2="98.60" y2="282.30" stroke="#4d6ef2" stroke-width="0.7" />
<line x1="94.20" y1="289.50" x2="98.60" y2="289.50" stroke="#4d6ef2" stroke-width="0.7" />
<circle cx="96.40" cy="285.90" r="2.4" fill="none" stroke="#4d6ef2" stroke-width="0.8"/>
<line x1="90.30" y1="279.80" x2="90.30" y2="287.00" stroke="#4d6ef2" stroke-width="0.7" />
<line x1="88.10" y1="279.80" x2="92.50" y2="279.80" stroke="#4d6ef2" stroke-width="0.7" />
<line x1="88.10" y1="287.00" x2="92.50" y2="287.00" stroke="#4d6ef2" stroke-width="0.7" />
<circle cx="90.30" cy="283.40" r="2.4" fill="none" stroke="#4d6ef2" stroke-width="0.8"/>
<path d="M41.00,215.00 L42.00,228.00 L44.00,240.00 L48.00,248.00 L52.00,250.00 L56.00,252.00 L60.00,257.00 L64.00,263.00 L68.00,269.00 L72.00,274.00 L76.00,278.00 L80.00,282.00 L85.00,285.00 L90.00,287.00 L95.00,289.00 L100.00,291.00 L104.50,293.00" fill="none" stroke="#4d6ef2" stroke-width="2.0" stroke-dasharray="5 5.5" />
<line x1="40.60" y1="205.60" x2="40.60" y2="215.60" stroke="#3a2aac" stroke-width="0.7" />
<line x1="38.40" y1="205.60" x2="42.80" y2="205.60" stroke="#3a2aac" stroke-width="0.7" />
<line x1="38.40" y1="215.60" x2="42.80" y2="215.60" stroke="#3a2aac" stroke-width="0.7" />
<circle cx="40.60" cy="210.60" r="2.4" fill="none" stroke="#3a2aac" stroke-width="0.8"/>
<line x1="41.30" y1="265.20" x2="41.30" y2="277.20" stroke="#3a2aac" stroke-width="0.7" />
<line x1="39.10" y1="265.20" x2="43.50" y2="265.20" stroke="#3a2aac" stroke-width="0.7" />
<line x1="39.10" y1="277.20" x2="43.50" y2="277.20" stroke="#3a2aac" stroke-width="0.7" />
<circle cx="41.30" cy="271.20" r="2.4" fill="none" stroke="#3a2aac" stroke-width="0.8"/>
<line x1="43.50" y1="278.40" x2="43.50" y2="288.40" stroke="#3a2aac" stroke-width="0.7" />
<line x1="41.30" y1="278.40" x2="45.70" y2="278.40" stroke="#3a2aac" stroke-width="0.7" />
<line x1="41.30" y1="288.40" x2="45.70" y2="288.40" stroke="#3a2aac" stroke-width="0.7" />
<circle cx="43.50" cy="283.40" r="2.4" fill="none" stroke="#3a2aac" stroke-width="0.8"/>
<line x1="46.10" y1="282.50" x2="46.10" y2="292.50" stroke="#3a2aac" stroke-width="0.7" />
<line x1="43.90" y1="282.50" x2="48.30" y2="282.50" stroke="#3a2aac" stroke-width="0.7" />
<line x1="43.90" y1="292.50" x2="48.30" y2="292.50" stroke="#3a2aac" stroke-width="0.7" />
<circle cx="46.10" cy="287.50" r="2.4" fill="none" stroke="#3a2aac" stroke-width="0.8"/>
<line x1="46.70" y1="264.70" x2="46.70" y2="274.70" stroke="#3a2aac" stroke-width="0.7" />
<line x1="44.50" y1="264.70" x2="48.90" y2="264.70" stroke="#3a2aac" stroke-width="0.7" />
<line x1="44.50" y1="274.70" x2="48.90" y2="274.70" stroke="#3a2aac" stroke-width="0.7" />
<circle cx="46.70" cy="269.70" r="2.4" fill="none" stroke="#3a2aac" stroke-width="0.8"/>
<line x1="48.60" y1="284.20" x2="48.60" y2="294.20" stroke="#3a2aac" stroke-width="0.7" />
<line x1="46.40" y1="284.20" x2="50.80" y2="284.20" stroke="#3a2aac" stroke-width="0.7" />
<line x1="46.40" y1="294.20" x2="50.80" y2="294.20" stroke="#3a2aac" stroke-width="0.7" />
<circle cx="48.60" cy="289.20" r="2.4" fill="none" stroke="#3a2aac" stroke-width="0.8"/>
<line x1="51.10" y1="277.50" x2="51.10" y2="287.50" stroke="#3a2aac" stroke-width="0.7" />
<line x1="48.90" y1="277.50" x2="53.30" y2="277.50" stroke="#3a2aac" stroke-width="0.7" />
<line x1="48.90" y1="287.50" x2="53.30" y2="287.50" stroke="#3a2aac" stroke-width="0.7" />
<circle cx="51.10" cy="282.50" r="2.4" fill="none" stroke="#3a2aac" stroke-width="0.8"/>
<line x1="51.90" y1="283.40" x2="51.90" y2="293.40" stroke="#3a2aac" stroke-width="0.7" />
<line x1="49.70" y1="283.40" x2="54.10" y2="283.40" stroke="#3a2aac" stroke-width="0.7" />
<line x1="49.70" y1="293.40" x2="54.10" y2="293.40" stroke="#3a2aac" stroke-width="0.7" />
<circle cx="51.90" cy="288.40" r="2.4" fill="none" stroke="#3a2aac" stroke-width="0.8"/>
<line x1="53.50" y1="263.90" x2="53.50" y2="273.90" stroke="#3a2aac" stroke-width="0.7" />
<line x1="51.30" y1="263.90" x2="55.70" y2="263.90" stroke="#3a2aac" stroke-width="0.7" />
<line x1="51.30" y1="273.90" x2="55.70" y2="273.90" stroke="#3a2aac" stroke-width="0.7" />
<circle cx="53.50" cy="268.90" r="2.4" fill="none" stroke="#3a2aac" stroke-width="0.8"/>
<line x1="50.20" y1="290.10" x2="50.20" y2="300.10" stroke="#3a2aac" stroke-width="0.7" />
<line x1="48.00" y1="290.10" x2="52.40" y2="290.10" stroke="#3a2aac" stroke-width="0.7" />
<line x1="48.00" y1="300.10" x2="52.40" y2="300.10" stroke="#3a2aac" stroke-width="0.7" />
<circle cx="50.20" cy="295.10" r="2.4" fill="none" stroke="#3a2aac" stroke-width="0.8"/>
<line x1="55.30" y1="291.80" x2="55.30" y2="301.80" stroke="#3a2aac" stroke-width="0.7" />
<line x1="53.10" y1="291.80" x2="57.50" y2="291.80" stroke="#3a2aac" stroke-width="0.7" />
<line x1="53.10" y1="301.80" x2="57.50" y2="301.80" stroke="#3a2aac" stroke-width="0.7" />
<circle cx="55.30" cy="296.80" r="2.4" fill="none" stroke="#3a2aac" stroke-width="0.8"/>
<line x1="57.80" y1="287.60" x2="57.80" y2="297.60" stroke="#3a2aac" stroke-width="0.7" />
<line x1="55.60" y1="287.60" x2="60.00" y2="287.60" stroke="#3a2aac" stroke-width="0.7" />
<line x1="55.60" y1="297.60" x2="60.00" y2="297.60" stroke="#3a2aac" stroke-width="0.7" />
<circle cx="57.80" cy="292.60" r="2.4" fill="none" stroke="#3a2aac" stroke-width="0.8"/>
<line x1="60.30" y1="288.70" x2="60.30" y2="294.70" stroke="#3a2aac" stroke-width="0.7" />
<line x1="58.10" y1="288.70" x2="62.50" y2="288.70" stroke="#3a2aac" stroke-width="0.7" />
<line x1="58.10" y1="294.70" x2="62.50" y2="294.70" stroke="#3a2aac" stroke-width="0.7" />
<circle cx="60.30" cy="291.70" r="2.4" fill="none" stroke="#3a2aac" stroke-width="0.8"/>
<line x1="64.50" y1="293.80" x2="64.50" y2="299.80" stroke="#3a2aac" stroke-width="0.7" />
<line x1="62.30" y1="293.80" x2="66.70" y2="293.80" stroke="#3a2aac" stroke-width="0.7" />
<line x1="62.30" y1="299.80" x2="66.70" y2="299.80" stroke="#3a2aac" stroke-width="0.7" />
<circle cx="64.50" cy="296.80" r="2.4" fill="none" stroke="#3a2aac" stroke-width="0.8"/>
<line x1="44.40" y1="295.10" x2="44.40" y2="305.10" stroke="#3a2aac" stroke-width="0.7" />
<line x1="42.20" y1="295.10" x2="46.60" y2="295.10" stroke="#3a2aac" stroke-width="0.7" />
<line x1="42.20" y1="305.10" x2="46.60" y2="305.10" stroke="#3a2aac" stroke-width="0.7" />
<circle cx="44.40" cy="300.10" r="2.4" fill="none" stroke="#3a2aac" stroke-width="0.8"/>
<line x1="43.00" y1="301.80" x2="43.00" y2="311.80" stroke="#3a2aac" stroke-width="0.7" />
<line x1="40.80" y1="301.80" x2="45.20" y2="301.80" stroke="#3a2aac" stroke-width="0.7" />
<line x1="40.80" y1="311.80" x2="45.20" y2="311.80" stroke="#3a2aac" stroke-width="0.7" />
<circle cx="43.00" cy="306.80" r="2.4" fill="none" stroke="#3a2aac" stroke-width="0.8"/>
<line x1="62.00" y1="303.80" x2="62.00" y2="309.80" stroke="#3a2aac" stroke-width="0.7" />
<line x1="59.80" y1="303.80" x2="64.20" y2="303.80" stroke="#3a2aac" stroke-width="0.7" />
<line x1="59.80" y1="309.80" x2="64.20" y2="309.80" stroke="#3a2aac" stroke-width="0.7" />
<circle cx="62.00" cy="306.80" r="2.4" fill="none" stroke="#3a2aac" stroke-width="0.8"/>
<line x1="64.50" y1="304.60" x2="64.50" y2="310.60" stroke="#3a2aac" stroke-width="0.7" />
<line x1="62.30" y1="304.60" x2="66.70" y2="304.60" stroke="#3a2aac" stroke-width="0.7" />
<line x1="62.30" y1="310.60" x2="66.70" y2="310.60" stroke="#3a2aac" stroke-width="0.7" />
<circle cx="64.50" cy="307.60" r="2.4" fill="none" stroke="#3a2aac" stroke-width="0.8"/>
<line x1="67.00" y1="306.30" x2="67.00" y2="312.30" stroke="#3a2aac" stroke-width="0.7" />
<line x1="64.80" y1="306.30" x2="69.20" y2="306.30" stroke="#3a2aac" stroke-width="0.7" />
<line x1="64.80" y1="312.30" x2="69.20" y2="312.30" stroke="#3a2aac" stroke-width="0.7" />
<circle cx="67.00" cy="309.30" r="2.4" fill="none" stroke="#3a2aac" stroke-width="0.8"/>
<line x1="69.50" y1="312.20" x2="69.50" y2="318.20" stroke="#3a2aac" stroke-width="0.7" />
<line x1="67.30" y1="312.20" x2="71.70" y2="312.20" stroke="#3a2aac" stroke-width="0.7" />
<line x1="67.30" y1="318.20" x2="71.70" y2="318.20" stroke="#3a2aac" stroke-width="0.7" />
<circle cx="69.50" cy="315.20" r="2.4" fill="none" stroke="#3a2aac" stroke-width="0.8"/>
<line x1="72.00" y1="308.00" x2="72.00" y2="314.00" stroke="#3a2aac" stroke-width="0.7" />
<line x1="69.80" y1="308.00" x2="74.20" y2="308.00" stroke="#3a2aac" stroke-width="0.7" />
<line x1="69.80" y1="314.00" x2="74.20" y2="314.00" stroke="#3a2aac" stroke-width="0.7" />
<circle cx="72.00" cy="311.00" r="2.4" fill="none" stroke="#3a2aac" stroke-width="0.8"/>
<line x1="75.40" y1="301.30" x2="75.40" y2="307.30" stroke="#3a2aac" stroke-width="0.7" />
<line x1="73.20" y1="301.30" x2="77.60" y2="301.30" stroke="#3a2aac" stroke-width="0.7" />
<line x1="73.20" y1="307.30" x2="77.60" y2="307.30" stroke="#3a2aac" stroke-width="0.7" />
<circle cx="75.40" cy="304.30" r="2.4" fill="none" stroke="#3a2aac" stroke-width="0.8"/>
<line x1="76.20" y1="311.30" x2="76.20" y2="317.30" stroke="#3a2aac" stroke-width="0.7" />
<line x1="74.00" y1="311.30" x2="78.40" y2="311.30" stroke="#3a2aac" stroke-width="0.7" />
<line x1="74.00" y1="317.30" x2="78.40" y2="317.30" stroke="#3a2aac" stroke-width="0.7" />
<circle cx="76.20" cy="314.30" r="2.4" fill="none" stroke="#3a2aac" stroke-width="0.8"/>
<line x1="70.30" y1="316.40" x2="70.30" y2="322.40" stroke="#3a2aac" stroke-width="0.7" />
<line x1="68.10" y1="316.40" x2="72.50" y2="316.40" stroke="#3a2aac" stroke-width="0.7" />
<line x1="68.10" y1="322.40" x2="72.50" y2="322.40" stroke="#3a2aac" stroke-width="0.7" />
<circle cx="70.30" cy="319.40" r="2.4" fill="none" stroke="#3a2aac" stroke-width="0.8"/>
<line x1="73.70" y1="318.00" x2="73.70" y2="324.00" stroke="#3a2aac" stroke-width="0.7" />
<line x1="71.50" y1="318.00" x2="75.90" y2="318.00" stroke="#3a2aac" stroke-width="0.7" />
<line x1="71.50" y1="324.00" x2="75.90" y2="324.00" stroke="#3a2aac" stroke-width="0.7" />
<circle cx="73.70" cy="321.00" r="2.4" fill="none" stroke="#3a2aac" stroke-width="0.8"/>
<line x1="78.70" y1="318.00" x2="78.70" y2="324.00" stroke="#3a2aac" stroke-width="0.7" />
<line x1="76.50" y1="318.00" x2="80.90" y2="318.00" stroke="#3a2aac" stroke-width="0.7" />
<line x1="76.50" y1="324.00" x2="80.90" y2="324.00" stroke="#3a2aac" stroke-width="0.7" />
<circle cx="78.70" cy="321.00" r="2.4" fill="none" stroke="#3a2aac" stroke-width="0.8"/>
<line x1="81.20" y1="320.60" x2="81.20" y2="326.60" stroke="#3a2aac" stroke-width="0.7" />
<line x1="79.00" y1="320.60" x2="83.40" y2="320.60" stroke="#3a2aac" stroke-width="0.7" />
<line x1="79.00" y1="326.60" x2="83.40" y2="326.60" stroke="#3a2aac" stroke-width="0.7" />
<circle cx="81.20" cy="323.60" r="2.4" fill="none" stroke="#3a2aac" stroke-width="0.8"/>
<line x1="84.60" y1="321.40" x2="84.60" y2="327.40" stroke="#3a2aac" stroke-width="0.7" />
<line x1="82.40" y1="321.40" x2="86.80" y2="321.40" stroke="#3a2aac" stroke-width="0.7" />
<line x1="82.40" y1="327.40" x2="86.80" y2="327.40" stroke="#3a2aac" stroke-width="0.7" />
<circle cx="84.60" cy="324.40" r="2.4" fill="none" stroke="#3a2aac" stroke-width="0.8"/>
<line x1="82.90" y1="325.60" x2="82.90" y2="331.60" stroke="#3a2aac" stroke-width="0.7" />
<line x1="80.70" y1="325.60" x2="85.10" y2="325.60" stroke="#3a2aac" stroke-width="0.7" />
<line x1="80.70" y1="331.60" x2="85.10" y2="331.60" stroke="#3a2aac" stroke-width="0.7" />
<circle cx="82.90" cy="328.60" r="2.4" fill="none" stroke="#3a2aac" stroke-width="0.8"/>
<line x1="87.10" y1="327.30" x2="87.10" y2="333.30" stroke="#3a2aac" stroke-width="0.7" />
<line x1="84.90" y1="327.30" x2="89.30" y2="327.30" stroke="#3a2aac" stroke-width="0.7" />
<line x1="84.90" y1="333.30" x2="89.30" y2="333.30" stroke="#3a2aac" stroke-width="0.7" />
<circle cx="87.10" cy="330.30" r="2.4" fill="none" stroke="#3a2aac" stroke-width="0.8"/>
<line x1="89.60" y1="329.80" x2="89.60" y2="335.80" stroke="#3a2aac" stroke-width="0.7" />
<line x1="87.40" y1="329.80" x2="91.80" y2="329.80" stroke="#3a2aac" stroke-width="0.7" />
<line x1="87.40" y1="335.80" x2="91.80" y2="335.80" stroke="#3a2aac" stroke-width="0.7" />
<circle cx="89.60" cy="332.80" r="2.4" fill="none" stroke="#3a2aac" stroke-width="0.8"/>
<line x1="85.40" y1="334.80" x2="85.40" y2="340.80" stroke="#3a2aac" stroke-width="0.7" />
<line x1="83.20" y1="334.80" x2="87.60" y2="334.80" stroke="#3a2aac" stroke-width="0.7" />
<line x1="83.20" y1="340.80" x2="87.60" y2="340.80" stroke="#3a2aac" stroke-width="0.7" />
<circle cx="85.40" cy="337.80" r="2.4" fill="none" stroke="#3a2aac" stroke-width="0.8"/>
<line x1="92.10" y1="330.60" x2="92.10" y2="336.60" stroke="#3a2aac" stroke-width="0.7" />
<line x1="89.90" y1="330.60" x2="94.30" y2="330.60" stroke="#3a2aac" stroke-width="0.7" />
<line x1="89.90" y1="336.60" x2="94.30" y2="336.60" stroke="#3a2aac" stroke-width="0.7" />
<circle cx="92.10" cy="333.60" r="2.4" fill="none" stroke="#3a2aac" stroke-width="0.8"/>
<line x1="94.60" y1="325.60" x2="94.60" y2="331.60" stroke="#3a2aac" stroke-width="0.7" />
<line x1="92.40" y1="325.60" x2="96.80" y2="325.60" stroke="#3a2aac" stroke-width="0.7" />
<line x1="92.40" y1="331.60" x2="96.80" y2="331.60" stroke="#3a2aac" stroke-width="0.7" />
<circle cx="94.60" cy="328.60" r="2.4" fill="none" stroke="#3a2aac" stroke-width="0.8"/>
<line x1="96.30" y1="334.80" x2="96.30" y2="340.80" stroke="#3a2aac" stroke-width="0.7" />
<line x1="94.10" y1="334.80" x2="98.50" y2="334.80" stroke="#3a2aac" stroke-width="0.7" />
<line x1="94.10" y1="340.80" x2="98.50" y2="340.80" stroke="#3a2aac" stroke-width="0.7" />
<circle cx="96.30" cy="337.80" r="2.4" fill="none" stroke="#3a2aac" stroke-width="0.8"/>
<line x1="98.80" y1="329.80" x2="98.80" y2="335.80" stroke="#3a2aac" stroke-width="0.7" />
<line x1="96.60" y1="329.80" x2="101.00" y2="329.80" stroke="#3a2aac" stroke-width="0.7" />
<line x1="96.60" y1="335.80" x2="101.00" y2="335.80" stroke="#3a2aac" stroke-width="0.7" />
<circle cx="98.80" cy="332.80" r="2.4" fill="none" stroke="#3a2aac" stroke-width="0.8"/>
<line x1="101.30" y1="327.30" x2="101.30" y2="333.30" stroke="#3a2aac" stroke-width="0.7" />
<line x1="99.10" y1="327.30" x2="103.50" y2="327.30" stroke="#3a2aac" stroke-width="0.7" />
<line x1="99.10" y1="333.30" x2="103.50" y2="333.30" stroke="#3a2aac" stroke-width="0.7" />
<circle cx="101.30" cy="330.30" r="2.4" fill="none" stroke="#3a2aac" stroke-width="0.8"/>
<line x1="103.80" y1="336.50" x2="103.80" y2="342.50" stroke="#3a2aac" stroke-width="0.7" />
<line x1="101.60" y1="336.50" x2="106.00" y2="336.50" stroke="#3a2aac" stroke-width="0.7" />
<line x1="101.60" y1="342.50" x2="106.00" y2="342.50" stroke="#3a2aac" stroke-width="0.7" />
<circle cx="103.80" cy="339.50" r="2.4" fill="none" stroke="#3a2aac" stroke-width="0.8"/>
<line x1="58.90" y1="287.50" x2="58.90" y2="293.50" stroke="#3a2aac" stroke-width="0.7" />
<line x1="56.70" y1="287.50" x2="61.10" y2="287.50" stroke="#3a2aac" stroke-width="0.7" />
<line x1="56.70" y1="293.50" x2="61.10" y2="293.50" stroke="#3a2aac" stroke-width="0.7" />
<circle cx="58.90" cy="290.50" r="2.4" fill="none" stroke="#3a2aac" stroke-width="0.8"/>
<line x1="64.60" y1="294.50" x2="64.60" y2="300.50" stroke="#3a2aac" stroke-width="0.7" />
<line x1="62.40" y1="294.50" x2="66.80" y2="294.50" stroke="#3a2aac" stroke-width="0.7" />
<line x1="62.40" y1="300.50" x2="66.80" y2="300.50" stroke="#3a2aac" stroke-width="0.7" />
<circle cx="64.60" cy="297.50" r="2.4" fill="none" stroke="#3a2aac" stroke-width="0.8"/>
<line x1="56.30" y1="287.70" x2="56.30" y2="295.70" stroke="#3a2aac" stroke-width="0.7" />
<line x1="54.10" y1="287.70" x2="58.50" y2="287.70" stroke="#3a2aac" stroke-width="0.7" />
<line x1="54.10" y1="295.70" x2="58.50" y2="295.70" stroke="#3a2aac" stroke-width="0.7" />
<circle cx="56.30" cy="291.70" r="2.4" fill="none" stroke="#3a2aac" stroke-width="0.8"/>
<line x1="55.00" y1="293.50" x2="55.00" y2="301.50" stroke="#3a2aac" stroke-width="0.7" />
<line x1="52.80" y1="293.50" x2="57.20" y2="293.50" stroke="#3a2aac" stroke-width="0.7" />
<line x1="52.80" y1="301.50" x2="57.20" y2="301.50" stroke="#3a2aac" stroke-width="0.7" />
<circle cx="55.00" cy="297.50" r="2.4" fill="none" stroke="#3a2aac" stroke-width="0.8"/>
<line x1="51.20" y1="278.90" x2="51.20" y2="286.90" stroke="#3a2aac" stroke-width="0.7" />
<line x1="49.00" y1="278.90" x2="53.40" y2="278.90" stroke="#3a2aac" stroke-width="0.7" />
<line x1="49.00" y1="286.90" x2="53.40" y2="286.90" stroke="#3a2aac" stroke-width="0.7" />
<circle cx="51.20" cy="282.90" r="2.4" fill="none" stroke="#3a2aac" stroke-width="0.8"/>
<line x1="47.40" y1="284.60" x2="47.40" y2="292.60" stroke="#3a2aac" stroke-width="0.7" />
<line x1="45.20" y1="284.60" x2="49.60" y2="284.60" stroke="#3a2aac" stroke-width="0.7" />
<line x1="45.20" y1="292.60" x2="49.60" y2="292.60" stroke="#3a2aac" stroke-width="0.7" />
<circle cx="47.40" cy="288.60" r="2.4" fill="none" stroke="#3a2aac" stroke-width="0.8"/>
<path d="M41.00,215.00 L41.50,245.00 L42.00,270.00 L43.00,283.00 L46.00,289.00 L50.00,291.00 L54.00,292.00 L58.00,295.00 L61.00,302.00 L65.00,307.00 L70.00,313.00 L75.00,318.00 L80.00,323.00 L85.00,327.00 L90.00,331.00 L95.00,333.00 L100.00,334.00 L104.00,335.00" fill="none" stroke="#3a2aac" stroke-width="2.0" stroke-dasharray="5 5.5" />
</g>
<line x1="114.60" y1="285.30" x2="114.60" y2="292.50" stroke="#3a2aac" stroke-width="0.7" />
<line x1="112.60" y1="285.30" x2="116.60" y2="285.30" stroke="#3a2aac" stroke-width="0.7" />
<line x1="112.60" y1="292.50" x2="116.60" y2="292.50" stroke="#3a2aac" stroke-width="0.7" />
<circle cx="114.60" cy="288.90" r="2.3" fill="none" stroke="#3a2aac" stroke-width="0.8"/>
<text x="128.60" y="293.50" font-size="6.3" text-anchor="start" fill="#000">n(Nb)=2.4e18cm<tspan font-size="4.6" dy="-3.2">-3</tspan></text>
<line x1="114.60" y1="295.60" x2="114.60" y2="302.80" stroke="#4d6ef2" stroke-width="0.7" />
<line x1="112.60" y1="295.60" x2="116.60" y2="295.60" stroke="#4d6ef2" stroke-width="0.7" />
<line x1="112.60" y1="302.80" x2="116.60" y2="302.80" stroke="#4d6ef2" stroke-width="0.7" />
<circle cx="114.60" cy="299.20" r="2.3" fill="none" stroke="#4d6ef2" stroke-width="0.8"/>
<text x="128.60" y="303.80" font-size="6.3" text-anchor="start" fill="#000">n(Nb)=2.3e19cm<tspan font-size="4.6" dy="-3.2">-3</tspan></text>
<line x1="114.60" y1="305.90" x2="114.60" y2="313.10" stroke="#2aaee0" stroke-width="0.7" />
<line x1="112.60" y1="305.90" x2="116.60" y2="305.90" stroke="#2aaee0" stroke-width="0.7" />
<line x1="112.60" y1="313.10" x2="116.60" y2="313.10" stroke="#2aaee0" stroke-width="0.7" />
<circle cx="114.60" cy="309.50" r="2.3" fill="none" stroke="#2aaee0" stroke-width="0.8"/>
<text x="128.60" y="314.10" font-size="6.3" text-anchor="start" fill="#000">n(Nb)=1.7e20cm<tspan font-size="4.6" dy="-3.2">-3</tspan></text>
<line x1="114.60" y1="316.20" x2="114.60" y2="323.40" stroke="#36c488" stroke-width="0.7" />
<line x1="112.60" y1="316.20" x2="116.60" y2="316.20" stroke="#36c488" stroke-width="0.7" />
<line x1="112.60" y1="323.40" x2="116.60" y2="323.40" stroke="#36c488" stroke-width="0.7" />
<circle cx="114.60" cy="319.80" r="2.3" fill="none" stroke="#36c488" stroke-width="0.8"/>
<text x="128.60" y="324.40" font-size="6.3" text-anchor="start" fill="#000">n(La)=1.8e20cm<tspan font-size="4.6" dy="-3.2">-3</tspan></text>
<line x1="114.60" y1="326.50" x2="114.60" y2="333.70" stroke="#ecb42f" stroke-width="0.7" />
<line x1="112.60" y1="326.50" x2="116.60" y2="326.50" stroke="#ecb42f" stroke-width="0.7" />
<line x1="112.60" y1="333.70" x2="116.60" y2="333.70" stroke="#ecb42f" stroke-width="0.7" />
<circle cx="114.60" cy="330.10" r="2.3" fill="none" stroke="#ecb42f" stroke-width="0.8"/>
<text x="128.60" y="334.70" font-size="6.3" text-anchor="start" fill="#000">n(La)=1.0e21cm<tspan font-size="4.6" dy="-3.2">-3</tspan></text>
<line x1="226.40" y1="191.50" x2="226.40" y2="188.70" stroke="#262626" stroke-width="1" />
<line x1="226.40" y1="58.50" x2="226.40" y2="61.30" stroke="#262626" stroke-width="1" />
<line x1="249.49" y1="191.50" x2="249.49" y2="189.70" stroke="#262626" stroke-width="1" />
<line x1="249.49" y1="58.50" x2="249.49" y2="60.30" stroke="#262626" stroke-width="1" />
<line x1="263.00" y1="191.50" x2="263.00" y2="189.70" stroke="#262626" stroke-width="1" />
<line x1="263.00" y1="58.50" x2="263.00" y2="60.30" stroke="#262626" stroke-width="1" />
<line x1="272.58" y1="191.50" x2="272.58" y2="189.70" stroke="#262626" stroke-width="1" />
<line x1="272.58" y1="58.50" x2="272.58" y2="60.30" stroke="#262626" stroke-width="1" />
<line x1="280.01" y1="191.50" x2="280.01" y2="189.70" stroke="#262626" stroke-width="1" />
<line x1="280.01" y1="58.50" x2="280.01" y2="60.30" stroke="#262626" stroke-width="1" />
<line x1="286.08" y1="191.50" x2="286.08" y2="189.70" stroke="#262626" stroke-width="1" />
<line x1="286.08" y1="58.50" x2="286.08" y2="60.30" stroke="#262626" stroke-width="1" />
<line x1="291.22" y1="191.50" x2="291.22" y2="189.70" stroke="#262626" stroke-width="1" />
<line x1="291.22" y1="58.50" x2="291.22" y2="60.30" stroke="#262626" stroke-width="1" />
<line x1="295.67" y1="191.50" x2="295.67" y2="189.70" stroke="#262626" stroke-width="1" />
<line x1="295.67" y1="58.50" x2="295.67" y2="60.30" stroke="#262626" stroke-width="1" />
<line x1="299.59" y1="191.50" x2="299.59" y2="189.70" stroke="#262626" stroke-width="1" />
<line x1="299.59" y1="58.50" x2="299.59" y2="60.30" stroke="#262626" stroke-width="1" />
<line x1="303.10" y1="191.50" x2="303.10" y2="188.70" stroke="#262626" stroke-width="1" />
<line x1="303.10" y1="58.50" x2="303.10" y2="61.30" stroke="#262626" stroke-width="1" />
<line x1="326.19" y1="191.50" x2="326.19" y2="189.70" stroke="#262626" stroke-width="1" />
<line x1="326.19" y1="58.50" x2="326.19" y2="60.30" stroke="#262626" stroke-width="1" />
<line x1="339.70" y1="191.50" x2="339.70" y2="189.70" stroke="#262626" stroke-width="1" />
<line x1="339.70" y1="58.50" x2="339.70" y2="60.30" stroke="#262626" stroke-width="1" />
<line x1="349.28" y1="191.50" x2="349.28" y2="189.70" stroke="#262626" stroke-width="1" />
<line x1="349.28" y1="58.50" x2="349.28" y2="60.30" stroke="#262626" stroke-width="1" />
<line x1="356.71" y1="191.50" x2="356.71" y2="189.70" stroke="#262626" stroke-width="1" />
<line x1="356.71" y1="58.50" x2="356.71" y2="60.30" stroke="#262626" stroke-width="1" />
<line x1="362.78" y1="191.50" x2="362.78" y2="189.70" stroke="#262626" stroke-width="1" />
<line x1="362.78" y1="58.50" x2="362.78" y2="60.30" stroke="#262626" stroke-width="1" />
<line x1="367.92" y1="191.50" x2="367.92" y2="189.70" stroke="#262626" stroke-width="1" />
<line x1="367.92" y1="58.50" x2="367.92" y2="60.30" stroke="#262626" stroke-width="1" />
<line x1="372.37" y1="191.50" x2="372.37" y2="189.70" stroke="#262626" stroke-width="1" />
<line x1="372.37" y1="58.50" x2="372.37" y2="60.30" stroke="#262626" stroke-width="1" />
<line x1="376.29" y1="191.50" x2="376.29" y2="189.70" stroke="#262626" stroke-width="1" />
<line x1="376.29" y1="58.50" x2="376.29" y2="60.30" stroke="#262626" stroke-width="1" />
<line x1="379.80" y1="191.50" x2="379.80" y2="188.70" stroke="#262626" stroke-width="1" />
<line x1="379.80" y1="58.50" x2="379.80" y2="61.30" stroke="#262626" stroke-width="1" />
<line x1="402.89" y1="191.50" x2="402.89" y2="189.70" stroke="#262626" stroke-width="1" />
<line x1="402.89" y1="58.50" x2="402.89" y2="60.30" stroke="#262626" stroke-width="1" />
<line x1="416.40" y1="191.50" x2="416.40" y2="189.70" stroke="#262626" stroke-width="1" />
<line x1="416.40" y1="58.50" x2="416.40" y2="60.30" stroke="#262626" stroke-width="1" />
<line x1="425.98" y1="191.50" x2="425.98" y2="189.70" stroke="#262626" stroke-width="1" />
<line x1="425.98" y1="58.50" x2="425.98" y2="60.30" stroke="#262626" stroke-width="1" />
<line x1="433.41" y1="191.50" x2="433.41" y2="189.70" stroke="#262626" stroke-width="1" />
<line x1="433.41" y1="58.50" x2="433.41" y2="60.30" stroke="#262626" stroke-width="1" />
<line x1="439.48" y1="191.50" x2="439.48" y2="189.70" stroke="#262626" stroke-width="1" />
<line x1="439.48" y1="58.50" x2="439.48" y2="60.30" stroke="#262626" stroke-width="1" />
<line x1="444.62" y1="191.50" x2="444.62" y2="189.70" stroke="#262626" stroke-width="1" />
<line x1="444.62" y1="58.50" x2="444.62" y2="60.30" stroke="#262626" stroke-width="1" />
<line x1="449.07" y1="191.50" x2="449.07" y2="189.70" stroke="#262626" stroke-width="1" />
<line x1="449.07" y1="58.50" x2="449.07" y2="60.30" stroke="#262626" stroke-width="1" />
<line x1="452.99" y1="191.50" x2="452.99" y2="189.70" stroke="#262626" stroke-width="1" />
<line x1="452.99" y1="58.50" x2="452.99" y2="60.30" stroke="#262626" stroke-width="1" />
<line x1="456.50" y1="191.50" x2="456.50" y2="188.70" stroke="#262626" stroke-width="1" />
<line x1="456.50" y1="58.50" x2="456.50" y2="61.30" stroke="#262626" stroke-width="1" />
<line x1="479.59" y1="191.50" x2="479.59" y2="189.70" stroke="#262626" stroke-width="1" />
<line x1="479.59" y1="58.50" x2="479.59" y2="60.30" stroke="#262626" stroke-width="1" />
<line x1="226.00" y1="158.25" x2="228.60" y2="158.25" stroke="#262626" stroke-width="1" />
<line x1="490.40" y1="158.25" x2="493.00" y2="158.25" stroke="#262626" stroke-width="1" />
<line x1="226.00" y1="125.00" x2="228.60" y2="125.00" stroke="#262626" stroke-width="1" />
<line x1="490.40" y1="125.00" x2="493.00" y2="125.00" stroke="#262626" stroke-width="1" />
<line x1="226.00" y1="91.75" x2="228.60" y2="91.75" stroke="#262626" stroke-width="1" />
<line x1="490.40" y1="91.75" x2="493.00" y2="91.75" stroke="#262626" stroke-width="1" />
<text class="b" x="221.80" y="195.90" font-size="10.5" text-anchor="end" fill="#000">0</text>
<text class="b" x="221.80" y="162.65" font-size="10.5" text-anchor="end" fill="#000">5</text>
<text class="b" x="221.80" y="129.40" font-size="10.5" text-anchor="end" fill="#000">10</text>
<text class="b" x="221.80" y="96.15" font-size="10.5" text-anchor="end" fill="#000">15</text>
<text class="b" x="221.80" y="62.90" font-size="10.5" text-anchor="end" fill="#000">20</text>
<text class="b" x="226.10" y="52.80" font-size="10.6" text-anchor="middle" fill="#000">10<tspan font-size="8.6" dy="-5.2">18</tspan></text>
<text class="b" x="302.80" y="52.80" font-size="10.6" text-anchor="middle" fill="#000">10<tspan font-size="8.6" dy="-5.2">19</tspan></text>
<text class="b" x="379.50" y="52.80" font-size="10.6" text-anchor="middle" fill="#000">10<tspan font-size="8.6" dy="-5.2">20</tspan></text>
<text class="b" x="456.20" y="52.80" font-size="10.6" text-anchor="middle" fill="#000">10<tspan font-size="8.6" dy="-5.2">21</tspan></text>
<text class="b" x="359.50" y="35.00" font-size="12.2" text-anchor="middle" fill="#000">n (cm<tspan font-size="8.6" dy="-4.2">-3</tspan><tspan dy="4.2">)</tspan></text>
<text transform="translate(200.8,125) rotate(-90)" font-size="11.6" text-anchor="middle">ω<tspan font-size="9.3" dy="4">TO</tspan><tspan dy="-4"> (meV)</tspan></text>
<text class="b" x="451.50" y="164.20" font-size="9.8" text-anchor="start" fill="#000">T=1.5K</text>
<text class="b" x="480.90" y="187.00" font-size="10.5" text-anchor="start" fill="#000">b)</text>
<rect x="340.50" y="170.70" width="5.80" height="5.80" fill="none" stroke="#3a90d0" stroke-width="0.8"/>
<rect x="317.30" y="173.40" width="5.80" height="5.80" fill="none" stroke="#3a90d0" stroke-width="0.8"/>
<rect x="340.40" y="171.30" width="5.80" height="5.80" fill="none" stroke="#3a90d0" stroke-width="0.8"/>
<rect x="389.00" y="148.50" width="5.80" height="5.80" fill="none" stroke="#3a90d0" stroke-width="0.8"/>
<rect x="417.40" y="131.40" width="5.80" height="5.80" fill="none" stroke="#3a90d0" stroke-width="0.8"/>
<circle cx="385.00" cy="147.80" r="3.6" fill="none" stroke="#77AC30" stroke-width="0.8"/>
<circle cx="435.20" cy="115.80" r="3.6" fill="none" stroke="#77AC30" stroke-width="0.8"/>
<circle cx="459.70" cy="86.20" r="3.6" fill="none" stroke="#77AC30" stroke-width="0.8"/>
<circle cx="403.80" cy="142.70" r="3.9" fill="#A2142F" stroke="none" stroke-width="1"/>
<circle cx="456.30" cy="91.00" r="3.9" fill="#A2142F" stroke="none" stroke-width="1"/>
<circle cx="472.00" cy="78.40" r="3.9" fill="#A2142F" stroke="none" stroke-width="1"/>
<circle cx="255.20" cy="176.60" r="3.9" fill="#0072BD" stroke="none" stroke-width="1"/>
<circle cx="330.50" cy="174.50" r="3.9" fill="#0072BD" stroke="none" stroke-width="1"/>
<circle cx="397.40" cy="151.10" r="3.9" fill="#0072BD" stroke="none" stroke-width="1"/>
<circle cx="249.20" cy="65.90" r="3.8" fill="#A2142F" stroke="none" stroke-width="1"/>
<circle cx="249.20" cy="76.20" r="3.8" fill="#0072BD" stroke="none" stroke-width="1"/>
<text x="263.60" y="68.90" font-size="6.85" text-anchor="start" fill="#000">STO-La INS (This study)</text>
<text x="263.60" y="79.10" font-size="6.85" text-anchor="start" fill="#000">STO-Nb INS (This study)</text>
<rect x="353.60" y="63.00" width="5.80" height="5.80" fill="none" stroke="#3a90d0" stroke-width="0.8"/>
<circle cx="356.40" cy="76.00" r="3.2" fill="none" stroke="#77AC30" stroke-width="0.8"/>
<text x="370.00" y="68.90" font-size="6.93" text-anchor="start" fill="#000">STO-Nb I.R Devreese et al.</text>
<text x="370.00" y="79.10" font-size="6.93" text-anchor="start" fill="#000">SrTiO<tspan font-size="5.9" dy="2.1">3-x</tspan><tspan dy="-2.1"> INS Baürle et al.</tspan></text>
<rect x="263.60" y="85.20" width="96.00" height="61.20" fill="#fff" stroke="none" stroke-width="1"/>
<g>
<line x1="311.60" y1="146.40" x2="311.60" y2="144.60" stroke="#262626" stroke-width="1" />
<line x1="311.60" y1="85.20" x2="311.60" y2="87.00" stroke="#262626" stroke-width="1" />
<line x1="263.60" y1="115.80" x2="265.40" y2="115.80" stroke="#262626" stroke-width="1" />
<line x1="357.80" y1="115.80" x2="359.60" y2="115.80" stroke="#262626" stroke-width="1" />
<text x="261.60" y="88.30" font-size="8.2" text-anchor="end" fill="#000">400</text>
<text x="261.60" y="118.90" font-size="8.2" text-anchor="end" fill="#000">200</text>
<text x="261.20" y="149.50" font-size="8.2" text-anchor="end" fill="#000">0</text>
<text x="263.60" y="157.40" font-size="8.2" text-anchor="middle" fill="#000">0</text>
<text x="311.60" y="157.40" font-size="8.2" text-anchor="middle" fill="#000">1</text>
<text x="359.60" y="157.40" font-size="8.2" text-anchor="middle" fill="#000">2</text>
<text x="312.00" y="167.50" font-size="8" text-anchor="middle" fill="#000">n (10<tspan font-size="6" dy="-3.3">21</tspan><tspan dy="3.3">cm</tspan><tspan font-size="6" dy="-3.3">-3</tspan><tspan dy="3.3">)</tspan></text>
<text transform="translate(240.6,115.8) rotate(-90)" font-size="8.3" text-anchor="middle">ω<tspan font-size="6" dy="-3.4">2</tspan><tspan font-size="6" dy="5.6" dx="-3.3">TO</tspan><tspan dy="-2.2"> (meV</tspan><tspan font-size="6" dy="-3.2">2</tspan><tspan dy="3.2">)</tspan></text>
<circle cx="317.84" cy="108.91" r="3.6" fill="none" stroke="#77AC30" stroke-width="0.8"/>
<circle cx="289.52" cy="126.51" r="3.6" fill="none" stroke="#77AC30" stroke-width="0.8"/>
<circle cx="269.36" cy="139.97" r="3.6" fill="none" stroke="#77AC30" stroke-width="0.8"/>
<rect x="277.98" y="132.03" width="5.80" height="5.80" fill="none" stroke="#3a90d0" stroke-width="0.8"/>
<circle cx="311.60" cy="112.43" r="3.9" fill="#A2142F" stroke="none" stroke-width="1"/>
<circle cx="340.40" cy="102.80" r="3.9" fill="#A2142F" stroke="none" stroke-width="1"/>
<circle cx="273.20" cy="138.44" r="3.9" fill="#A2142F" stroke="none" stroke-width="1"/>
<circle cx="271.76" cy="140.59" r="3.9" fill="#0072BD" stroke="none" stroke-width="1"/>
<circle cx="263.60" cy="145.79" r="3.9" fill="#0072BD" stroke="none" stroke-width="1"/>
<circle cx="265.52" cy="145.33" r="3.9" fill="#0072BD" stroke="none" stroke-width="1"/>
<path d="M263.60,146.40 L348.08,85.20" fill="none" stroke="#1a1a1a" stroke-width="1.25" stroke-dasharray="5.5 3" />
</g>
<line x1="263.60" y1="85.20" x2="359.60" y2="85.20" stroke="#303030" stroke-width="0.8" />
<line x1="263.60" y1="146.40" x2="359.60" y2="146.40" stroke="#303030" stroke-width="0.8" />
<line x1="359.60" y1="85.20" x2="359.60" y2="146.40" stroke="#303030" stroke-width="0.8" />
<line x1="263.60" y1="85.20" x2="263.60" y2="146.40" stroke="#303030" stroke-width="0.8" />
<line x1="226.40" y1="343.50" x2="226.40" y2="340.70" stroke="#262626" stroke-width="1" />
<line x1="226.40" y1="210.50" x2="226.40" y2="213.30" stroke="#262626" stroke-width="1" />
<line x1="249.49" y1="343.50" x2="249.49" y2="341.70" stroke="#262626" stroke-width="1" />
<line x1="249.49" y1="210.50" x2="249.49" y2="212.30" stroke="#262626" stroke-width="1" />
<line x1="263.00" y1="343.50" x2="263.00" y2="341.70" stroke="#262626" stroke-width="1" />
<line x1="263.00" y1="210.50" x2="263.00" y2="212.30" stroke="#262626" stroke-width="1" />
<line x1="272.58" y1="343.50" x2="272.58" y2="341.70" stroke="#262626" stroke-width="1" />
<line x1="272.58" y1="210.50" x2="272.58" y2="212.30" stroke="#262626" stroke-width="1" />
<line x1="280.01" y1="343.50" x2="280.01" y2="341.70" stroke="#262626" stroke-width="1" />
<line x1="280.01" y1="210.50" x2="280.01" y2="212.30" stroke="#262626" stroke-width="1" />
<line x1="286.08" y1="343.50" x2="286.08" y2="341.70" stroke="#262626" stroke-width="1" />
<line x1="286.08" y1="210.50" x2="286.08" y2="212.30" stroke="#262626" stroke-width="1" />
<line x1="291.22" y1="343.50" x2="291.22" y2="341.70" stroke="#262626" stroke-width="1" />
<line x1="291.22" y1="210.50" x2="291.22" y2="212.30" stroke="#262626" stroke-width="1" />
<line x1="295.67" y1="343.50" x2="295.67" y2="341.70" stroke="#262626" stroke-width="1" />
<line x1="295.67" y1="210.50" x2="295.67" y2="212.30" stroke="#262626" stroke-width="1" />
<line x1="299.59" y1="343.50" x2="299.59" y2="341.70" stroke="#262626" stroke-width="1" />
<line x1="299.59" y1="210.50" x2="299.59" y2="212.30" stroke="#262626" stroke-width="1" />
<line x1="303.10" y1="343.50" x2="303.10" y2="340.70" stroke="#262626" stroke-width="1" />
<line x1="303.10" y1="210.50" x2="303.10" y2="213.30" stroke="#262626" stroke-width="1" />
<line x1="326.19" y1="343.50" x2="326.19" y2="341.70" stroke="#262626" stroke-width="1" />
<line x1="326.19" y1="210.50" x2="326.19" y2="212.30" stroke="#262626" stroke-width="1" />
<line x1="339.70" y1="343.50" x2="339.70" y2="341.70" stroke="#262626" stroke-width="1" />
<line x1="339.70" y1="210.50" x2="339.70" y2="212.30" stroke="#262626" stroke-width="1" />
<line x1="349.28" y1="343.50" x2="349.28" y2="341.70" stroke="#262626" stroke-width="1" />
<line x1="349.28" y1="210.50" x2="349.28" y2="212.30" stroke="#262626" stroke-width="1" />
<line x1="356.71" y1="343.50" x2="356.71" y2="341.70" stroke="#262626" stroke-width="1" />
<line x1="356.71" y1="210.50" x2="356.71" y2="212.30" stroke="#262626" stroke-width="1" />
<line x1="362.78" y1="343.50" x2="362.78" y2="341.70" stroke="#262626" stroke-width="1" />
<line x1="362.78" y1="210.50" x2="362.78" y2="212.30" stroke="#262626" stroke-width="1" />
<line x1="367.92" y1="343.50" x2="367.92" y2="341.70" stroke="#262626" stroke-width="1" />
<line x1="367.92" y1="210.50" x2="367.92" y2="212.30" stroke="#262626" stroke-width="1" />
<line x1="372.37" y1="343.50" x2="372.37" y2="341.70" stroke="#262626" stroke-width="1" />
<line x1="372.37" y1="210.50" x2="372.37" y2="212.30" stroke="#262626" stroke-width="1" />
<line x1="376.29" y1="343.50" x2="376.29" y2="341.70" stroke="#262626" stroke-width="1" />
<line x1="376.29" y1="210.50" x2="376.29" y2="212.30" stroke="#262626" stroke-width="1" />
<line x1="379.80" y1="343.50" x2="379.80" y2="340.70" stroke="#262626" stroke-width="1" />
<line x1="379.80" y1="210.50" x2="379.80" y2="213.30" stroke="#262626" stroke-width="1" />
<line x1="402.89" y1="343.50" x2="402.89" y2="341.70" stroke="#262626" stroke-width="1" />
<line x1="402.89" y1="210.50" x2="402.89" y2="212.30" stroke="#262626" stroke-width="1" />
<line x1="416.40" y1="343.50" x2="416.40" y2="341.70" stroke="#262626" stroke-width="1" />
<line x1="416.40" y1="210.50" x2="416.40" y2="212.30" stroke="#262626" stroke-width="1" />
<line x1="425.98" y1="343.50" x2="425.98" y2="341.70" stroke="#262626" stroke-width="1" />
<line x1="425.98" y1="210.50" x2="425.98" y2="212.30" stroke="#262626" stroke-width="1" />
<line x1="433.41" y1="343.50" x2="433.41" y2="341.70" stroke="#262626" stroke-width="1" />
<line x1="433.41" y1="210.50" x2="433.41" y2="212.30" stroke="#262626" stroke-width="1" />
<line x1="439.48" y1="343.50" x2="439.48" y2="341.70" stroke="#262626" stroke-width="1" />
<line x1="439.48" y1="210.50" x2="439.48" y2="212.30" stroke="#262626" stroke-width="1" />
<line x1="444.62" y1="343.50" x2="444.62" y2="341.70" stroke="#262626" stroke-width="1" />
<line x1="444.62" y1="210.50" x2="444.62" y2="212.30" stroke="#262626" stroke-width="1" />
<line x1="449.07" y1="343.50" x2="449.07" y2="341.70" stroke="#262626" stroke-width="1" />
<line x1="449.07" y1="210.50" x2="449.07" y2="212.30" stroke="#262626" stroke-width="1" />
<line x1="452.99" y1="343.50" x2="452.99" y2="341.70" stroke="#262626" stroke-width="1" />
<line x1="452.99" y1="210.50" x2="452.99" y2="212.30" stroke="#262626" stroke-width="1" />
<line x1="456.50" y1="343.50" x2="456.50" y2="340.70" stroke="#262626" stroke-width="1" />
<line x1="456.50" y1="210.50" x2="456.50" y2="213.30" stroke="#262626" stroke-width="1" />
<line x1="479.59" y1="343.50" x2="479.59" y2="341.70" stroke="#262626" stroke-width="1" />
<line x1="479.59" y1="210.50" x2="479.59" y2="212.30" stroke="#262626" stroke-width="1" />
<line x1="226.00" y1="316.90" x2="228.60" y2="316.90" stroke="#262626" stroke-width="1" />
<line x1="490.40" y1="316.90" x2="493.00" y2="316.90" stroke="#262626" stroke-width="1" />
<line x1="226.00" y1="290.30" x2="228.60" y2="290.30" stroke="#262626" stroke-width="1" />
<line x1="490.40" y1="290.30" x2="493.00" y2="290.30" stroke="#262626" stroke-width="1" />
<line x1="226.00" y1="263.70" x2="228.60" y2="263.70" stroke="#262626" stroke-width="1" />
<line x1="490.40" y1="263.70" x2="493.00" y2="263.70" stroke="#262626" stroke-width="1" />
<line x1="226.00" y1="237.10" x2="228.60" y2="237.10" stroke="#262626" stroke-width="1" />
<line x1="490.40" y1="237.10" x2="493.00" y2="237.10" stroke="#262626" stroke-width="1" />
<text class="b" x="221.80" y="347.90" font-size="10.5" text-anchor="end" fill="#000">4</text>
<text class="b" x="221.80" y="321.30" font-size="10.5" text-anchor="end" fill="#000">5</text>
<text class="b" x="221.80" y="294.70" font-size="10.5" text-anchor="end" fill="#000">6</text>
<text class="b" x="221.80" y="268.10" font-size="10.5" text-anchor="end" fill="#000">7</text>
<text class="b" x="221.80" y="241.50" font-size="10.5" text-anchor="end" fill="#000">8</text>
<text class="b" x="221.80" y="214.90" font-size="10.5" text-anchor="end" fill="#000">9</text>
<text class="b" x="226.10" y="361.30" font-size="10.6" text-anchor="middle" fill="#000">10<tspan font-size="8.6" dy="-5.2">18</tspan></text>
<text class="b" x="302.80" y="361.30" font-size="10.6" text-anchor="middle" fill="#000">10<tspan font-size="8.6" dy="-5.2">19</tspan></text>
<text class="b" x="379.50" y="361.30" font-size="10.6" text-anchor="middle" fill="#000">10<tspan font-size="8.6" dy="-5.2">20</tspan></text>
<text class="b" x="456.20" y="361.30" font-size="10.6" text-anchor="middle" fill="#000">10<tspan font-size="8.6" dy="-5.2">21</tspan></text>
<text class="b" x="359.70" y="377.70" font-size="10.9" text-anchor="middle" fill="#000">n (cm<tspan font-size="7.8" dy="-3.9">-3</tspan><tspan dy="3.9">)</tspan></text>
<text transform="translate(205.7,277) rotate(-90)" font-size="11.6" text-anchor="middle">v<tspan font-size="8.5" dy="3">TO</tspan><tspan dy="-3"> (km.s</tspan><tspan font-size="8" dy="-5">-1</tspan><tspan dy="5">)</tspan></text>
<text class="b" x="480.60" y="227.90" font-size="10.7" text-anchor="start" fill="#000">c)</text>
<line x1="254.90" y1="224.20" x2="254.90" y2="233.20" stroke="#74b4e2" stroke-width="0.9" />
<line x1="252.40" y1="224.20" x2="257.40" y2="224.20" stroke="#74b4e2" stroke-width="0.9" />
<line x1="252.40" y1="233.20" x2="257.40" y2="233.20" stroke="#74b4e2" stroke-width="0.9" />
<circle cx="254.90" cy="228.60" r="3.9" fill="#0072BD" stroke="none" stroke-width="1"/>
<circle cx="330.10" cy="253.70" r="3.9" fill="#0072BD" stroke="none" stroke-width="1"/>
<circle cx="396.60" cy="280.00" r="3.9" fill="#0072BD" stroke="none" stroke-width="1"/>
<circle cx="403.70" cy="286.30" r="3.9" fill="#A2142F" stroke="none" stroke-width="1"/>
<line x1="456.40" y1="288.40" x2="456.40" y2="298.50" stroke="#c45b74" stroke-width="0.9" />
<line x1="453.90" y1="288.40" x2="458.90" y2="288.40" stroke="#c45b74" stroke-width="0.9" />
<line x1="453.90" y1="298.50" x2="458.90" y2="298.50" stroke="#c45b74" stroke-width="0.9" />
<circle cx="456.40" cy="293.40" r="3.9" fill="#A2142F" stroke="none" stroke-width="1"/>
<line x1="472.00" y1="304.50" x2="472.00" y2="313.10" stroke="#c45b74" stroke-width="0.9" />
<line x1="469.50" y1="304.50" x2="474.50" y2="304.50" stroke="#c45b74" stroke-width="0.9" />
<line x1="469.50" y1="313.10" x2="474.50" y2="313.10" stroke="#c45b74" stroke-width="0.9" />
<circle cx="472.00" cy="308.80" r="3.9" fill="#A2142F" stroke="none" stroke-width="1"/>
<line x1="354.20" y1="235.20" x2="354.20" y2="259.20" stroke="#77AC30" stroke-width="0.8" />
<line x1="351.50" y1="235.20" x2="356.90" y2="235.20" stroke="#77AC30" stroke-width="0.8" />
<line x1="351.50" y1="259.20" x2="356.90" y2="259.20" stroke="#77AC30" stroke-width="0.8" />
<circle cx="354.20" cy="247.20" r="3.6" fill="none" stroke="#77AC30" stroke-width="0.8"/>
<line x1="385.60" y1="235.10" x2="385.60" y2="258.90" stroke="#77AC30" stroke-width="0.8" />
<line x1="382.90" y1="235.10" x2="388.30" y2="235.10" stroke="#77AC30" stroke-width="0.8" />
<line x1="382.90" y1="258.90" x2="388.30" y2="258.90" stroke="#77AC30" stroke-width="0.8" />
<circle cx="385.60" cy="246.90" r="3.6" fill="none" stroke="#77AC30" stroke-width="0.8"/>
<line x1="435.00" y1="260.10" x2="435.00" y2="281.60" stroke="#77AC30" stroke-width="0.8" />
<line x1="432.30" y1="260.10" x2="437.70" y2="260.10" stroke="#77AC30" stroke-width="0.8" />
<line x1="432.30" y1="281.60" x2="437.70" y2="281.60" stroke="#77AC30" stroke-width="0.8" />
<circle cx="435.00" cy="271.10" r="3.6" fill="none" stroke="#77AC30" stroke-width="0.8"/>
<line x1="462.50" y1="319.10" x2="462.50" y2="333.90" stroke="#77AC30" stroke-width="0.8" />
<line x1="459.80" y1="319.10" x2="465.20" y2="319.10" stroke="#77AC30" stroke-width="0.8" />
<line x1="459.80" y1="333.90" x2="465.20" y2="333.90" stroke="#77AC30" stroke-width="0.8" />
<circle cx="462.50" cy="326.60" r="3.6" fill="none" stroke="#77AC30" stroke-width="0.8"/>
<line x1="472.40" y1="321.40" x2="472.40" y2="336.30" stroke="#77AC30" stroke-width="0.8" />
<line x1="469.70" y1="321.40" x2="475.10" y2="321.40" stroke="#77AC30" stroke-width="0.8" />
<line x1="469.70" y1="336.30" x2="475.10" y2="336.30" stroke="#77AC30" stroke-width="0.8" />
<circle cx="472.40" cy="329.00" r="3.6" fill="none" stroke="#77AC30" stroke-width="0.8"/>
<line x1="240.30" y1="303.60" x2="240.30" y2="310.00" stroke="#c45b74" stroke-width="0.8" />
<line x1="238.10" y1="303.60" x2="242.50" y2="303.60" stroke="#c45b74" stroke-width="0.8" />
<line x1="238.10" y1="310.00" x2="242.50" y2="310.00" stroke="#c45b74" stroke-width="0.8" />
<circle cx="240.30" cy="306.80" r="2.6" fill="#A2142F" stroke="none" stroke-width="1"/>
<line x1="240.30" y1="313.80" x2="240.30" y2="320.20" stroke="#74b4e2" stroke-width="0.8" />
<line x1="238.10" y1="313.80" x2="242.50" y2="313.80" stroke="#74b4e2" stroke-width="0.8" />
<line x1="238.10" y1="320.20" x2="242.50" y2="320.20" stroke="#74b4e2" stroke-width="0.8" />
<circle cx="240.30" cy="317.00" r="2.6" fill="#0072BD" stroke="none" stroke-width="1"/>
<line x1="240.30" y1="325.20" x2="240.30" y2="331.60" stroke="#77AC30" stroke-width="0.7" />
<line x1="238.10" y1="325.20" x2="242.50" y2="325.20" stroke="#77AC30" stroke-width="0.7" />
<line x1="238.10" y1="331.60" x2="242.50" y2="331.60" stroke="#77AC30" stroke-width="0.7" />
<circle cx="240.30" cy="328.40" r="2.4" fill="none" stroke="#77AC30" stroke-width="0.7"/>
<text x="254.60" y="310.00" font-size="7.55" text-anchor="start" fill="#000">STO-La INS (This study) T=1.5K</text>
<text x="254.60" y="320.10" font-size="7.55" text-anchor="start" fill="#000">STO-Nb INS (This study) T=1.5K</text>
<text x="254.60" y="331.00" font-size="7.55" text-anchor="start" fill="#000">SrTiO<tspan font-size="6.5" dy="3.8">3-x</tspan><tspan dy="-3.8"> INS Baürle et al. T=300K</tspan></text>
<line x1="520.94" y1="191.50" x2="520.94" y2="190.30" stroke="#262626" stroke-width="1" />
<line x1="520.94" y1="57.50" x2="520.94" y2="58.70" stroke="#262626" stroke-width="1" />
<line x1="528.16" y1="191.50" x2="528.16" y2="190.30" stroke="#262626" stroke-width="1" />
<line x1="528.16" y1="57.50" x2="528.16" y2="58.70" stroke="#262626" stroke-width="1" />
<line x1="533.28" y1="191.50" x2="533.28" y2="190.30" stroke="#262626" stroke-width="1" />
<line x1="533.28" y1="57.50" x2="533.28" y2="58.70" stroke="#262626" stroke-width="1" />
<line x1="537.26" y1="191.50" x2="537.26" y2="190.30" stroke="#262626" stroke-width="1" />
<line x1="537.26" y1="57.50" x2="537.26" y2="58.70" stroke="#262626" stroke-width="1" />
<line x1="540.50" y1="191.50" x2="540.50" y2="190.30" stroke="#262626" stroke-width="1" />
<line x1="540.50" y1="57.50" x2="540.50" y2="58.70" stroke="#262626" stroke-width="1" />
<line x1="543.25" y1="191.50" x2="543.25" y2="190.30" stroke="#262626" stroke-width="1" />
<line x1="543.25" y1="57.50" x2="543.25" y2="58.70" stroke="#262626" stroke-width="1" />
<line x1="545.63" y1="191.50" x2="545.63" y2="190.30" stroke="#262626" stroke-width="1" />
<line x1="545.63" y1="57.50" x2="545.63" y2="58.70" stroke="#262626" stroke-width="1" />
<line x1="547.72" y1="191.50" x2="547.72" y2="190.30" stroke="#262626" stroke-width="1" />
<line x1="547.72" y1="57.50" x2="547.72" y2="58.70" stroke="#262626" stroke-width="1" />
<line x1="549.60" y1="191.50" x2="549.60" y2="189.10" stroke="#262626" stroke-width="1" />
<line x1="549.60" y1="57.50" x2="549.60" y2="59.90" stroke="#262626" stroke-width="1" />
<line x1="561.94" y1="191.50" x2="561.94" y2="190.30" stroke="#262626" stroke-width="1" />
<line x1="561.94" y1="57.50" x2="561.94" y2="58.70" stroke="#262626" stroke-width="1" />
<line x1="569.16" y1="191.50" x2="569.16" y2="190.30" stroke="#262626" stroke-width="1" />
<line x1="569.16" y1="57.50" x2="569.16" y2="58.70" stroke="#262626" stroke-width="1" />
<line x1="574.28" y1="191.50" x2="574.28" y2="190.30" stroke="#262626" stroke-width="1" />
<line x1="574.28" y1="57.50" x2="574.28" y2="58.70" stroke="#262626" stroke-width="1" />
<line x1="578.26" y1="191.50" x2="578.26" y2="190.30" stroke="#262626" stroke-width="1" />
<line x1="578.26" y1="57.50" x2="578.26" y2="58.70" stroke="#262626" stroke-width="1" />
<line x1="581.50" y1="191.50" x2="581.50" y2="190.30" stroke="#262626" stroke-width="1" />
<line x1="581.50" y1="57.50" x2="581.50" y2="58.70" stroke="#262626" stroke-width="1" />
<line x1="584.25" y1="191.50" x2="584.25" y2="190.30" stroke="#262626" stroke-width="1" />
<line x1="584.25" y1="57.50" x2="584.25" y2="58.70" stroke="#262626" stroke-width="1" />
<line x1="586.63" y1="191.50" x2="586.63" y2="190.30" stroke="#262626" stroke-width="1" />
<line x1="586.63" y1="57.50" x2="586.63" y2="58.70" stroke="#262626" stroke-width="1" />
<line x1="588.72" y1="191.50" x2="588.72" y2="190.30" stroke="#262626" stroke-width="1" />
<line x1="588.72" y1="57.50" x2="588.72" y2="58.70" stroke="#262626" stroke-width="1" />
<line x1="590.60" y1="191.50" x2="590.60" y2="189.10" stroke="#262626" stroke-width="1" />
<line x1="590.60" y1="57.50" x2="590.60" y2="59.90" stroke="#262626" stroke-width="1" />
<line x1="602.94" y1="191.50" x2="602.94" y2="190.30" stroke="#262626" stroke-width="1" />
<line x1="602.94" y1="57.50" x2="602.94" y2="58.70" stroke="#262626" stroke-width="1" />
<line x1="610.16" y1="191.50" x2="610.16" y2="190.30" stroke="#262626" stroke-width="1" />
<line x1="610.16" y1="57.50" x2="610.16" y2="58.70" stroke="#262626" stroke-width="1" />
<line x1="615.28" y1="191.50" x2="615.28" y2="190.30" stroke="#262626" stroke-width="1" />
<line x1="615.28" y1="57.50" x2="615.28" y2="58.70" stroke="#262626" stroke-width="1" />
<line x1="619.26" y1="191.50" x2="619.26" y2="190.30" stroke="#262626" stroke-width="1" />
<line x1="619.26" y1="57.50" x2="619.26" y2="58.70" stroke="#262626" stroke-width="1" />
<line x1="622.50" y1="191.50" x2="622.50" y2="190.30" stroke="#262626" stroke-width="1" />
<line x1="622.50" y1="57.50" x2="622.50" y2="58.70" stroke="#262626" stroke-width="1" />
<line x1="625.25" y1="191.50" x2="625.25" y2="190.30" stroke="#262626" stroke-width="1" />
<line x1="625.25" y1="57.50" x2="625.25" y2="58.70" stroke="#262626" stroke-width="1" />
<line x1="627.63" y1="191.50" x2="627.63" y2="190.30" stroke="#262626" stroke-width="1" />
<line x1="627.63" y1="57.50" x2="627.63" y2="58.70" stroke="#262626" stroke-width="1" />
<line x1="629.72" y1="191.50" x2="629.72" y2="190.30" stroke="#262626" stroke-width="1" />
<line x1="629.72" y1="57.50" x2="629.72" y2="58.70" stroke="#262626" stroke-width="1" />
<line x1="631.60" y1="191.50" x2="631.60" y2="189.10" stroke="#262626" stroke-width="1" />
<line x1="631.60" y1="57.50" x2="631.60" y2="59.90" stroke="#262626" stroke-width="1" />
<line x1="508.50" y1="169.17" x2="511.10" y2="169.17" stroke="#262626" stroke-width="1" />
<line x1="640.90" y1="169.17" x2="643.50" y2="169.17" stroke="#262626" stroke-width="1" />
<line x1="508.50" y1="146.83" x2="511.10" y2="146.83" stroke="#262626" stroke-width="1" />
<line x1="640.90" y1="146.83" x2="643.50" y2="146.83" stroke="#262626" stroke-width="1" />
<line x1="508.50" y1="124.50" x2="511.10" y2="124.50" stroke="#262626" stroke-width="1" />
<line x1="640.90" y1="124.50" x2="643.50" y2="124.50" stroke="#262626" stroke-width="1" />
<line x1="508.50" y1="102.17" x2="511.10" y2="102.17" stroke="#262626" stroke-width="1" />
<line x1="640.90" y1="102.17" x2="643.50" y2="102.17" stroke="#262626" stroke-width="1" />
<line x1="508.50" y1="79.83" x2="511.10" y2="79.83" stroke="#262626" stroke-width="1" />
<line x1="640.90" y1="79.83" x2="643.50" y2="79.83" stroke="#262626" stroke-width="1" />
<text class="b" x="647.20" y="195.00" font-size="9.8" text-anchor="start" fill="#000">0</text>
<text class="b" x="647.20" y="172.67" font-size="9.8" text-anchor="start" fill="#000">0.2</text>
<text class="b" x="647.20" y="150.33" font-size="9.8" text-anchor="start" fill="#000">0.4</text>
<text class="b" x="647.20" y="128.00" font-size="9.8" text-anchor="start" fill="#000">0.6</text>
<text class="b" x="647.20" y="105.67" font-size="9.8" text-anchor="start" fill="#000">0.8</text>
<text class="b" x="647.20" y="83.33" font-size="9.8" text-anchor="start" fill="#000">1</text>
<text class="b" x="647.20" y="61.00" font-size="9.8" text-anchor="start" fill="#000">1.2</text>
<text class="b" x="508.50" y="52.20" font-size="9.8" text-anchor="middle" fill="#000">10<tspan font-size="8.4" dy="-5">18</tspan></text>
<text class="b" x="549.50" y="52.20" font-size="9.8" text-anchor="middle" fill="#000">10<tspan font-size="8.4" dy="-5">19</tspan></text>
<text class="b" x="590.50" y="52.20" font-size="9.8" text-anchor="middle" fill="#000">10<tspan font-size="8.4" dy="-5">20</tspan></text>
<text class="b" x="631.50" y="52.20" font-size="9.8" text-anchor="middle" fill="#000">10<tspan font-size="8.4" dy="-5">21</tspan></text>
<text class="b" x="576.20" y="35.80" font-size="11.1" text-anchor="middle" fill="#000">n (cm<tspan font-size="8" dy="-4.8">-3</tspan><tspan dy="4.8">)</tspan></text>
<text transform="translate(673.6,123.3) rotate(-90)" font-size="11.5" text-anchor="middle"><tspan font-family="Liberation Serif">Γ</tspan> (meV)</text>
<text class="b" x="629.00" y="187.20" font-size="10" text-anchor="start" fill="#000">d)</text>
<line x1="523.40" y1="79.85" x2="523.40" y2="102.15" stroke="#74b4e2" stroke-width="0.9" />
<line x1="520.80" y1="79.85" x2="526.00" y2="79.85" stroke="#74b4e2" stroke-width="0.9" />
<line x1="520.80" y1="102.15" x2="526.00" y2="102.15" stroke="#74b4e2" stroke-width="0.9" />
<line x1="563.80" y1="91.02" x2="563.80" y2="113.32" stroke="#74b4e2" stroke-width="0.9" />
<line x1="561.20" y1="91.02" x2="566.40" y2="91.02" stroke="#74b4e2" stroke-width="0.9" />
<line x1="561.20" y1="113.32" x2="566.40" y2="113.32" stroke="#74b4e2" stroke-width="0.9" />
<line x1="598.80" y1="124.52" x2="598.80" y2="146.82" stroke="#74b4e2" stroke-width="0.9" />
<line x1="596.20" y1="124.52" x2="601.40" y2="124.52" stroke="#74b4e2" stroke-width="0.9" />
<line x1="596.20" y1="146.82" x2="601.40" y2="146.82" stroke="#74b4e2" stroke-width="0.9" />
<line x1="603.20" y1="124.52" x2="603.20" y2="146.82" stroke="#c45b74" stroke-width="0.9" />
<line x1="600.60" y1="124.52" x2="605.80" y2="124.52" stroke="#c45b74" stroke-width="0.9" />
<line x1="600.60" y1="146.82" x2="605.80" y2="146.82" stroke="#c45b74" stroke-width="0.9" />
<line x1="631.30" y1="91.02" x2="631.30" y2="113.32" stroke="#c45b74" stroke-width="0.9" />
<line x1="628.70" y1="91.02" x2="633.90" y2="91.02" stroke="#c45b74" stroke-width="0.9" />
<line x1="628.70" y1="113.32" x2="633.90" y2="113.32" stroke="#c45b74" stroke-width="0.9" />
<circle cx="523.40" cy="91.00" r="3.5" fill="#0072BD" stroke="none" stroke-width="1"/>
<circle cx="563.80" cy="102.17" r="3.5" fill="#0072BD" stroke="none" stroke-width="1"/>
<circle cx="598.80" cy="135.67" r="3.5" fill="#0072BD" stroke="none" stroke-width="1"/>
<circle cx="603.20" cy="135.67" r="3.5" fill="#A2142F" stroke="none" stroke-width="1"/>
<circle cx="631.30" cy="102.17" r="3.5" fill="#A2142F" stroke="none" stroke-width="1"/>
<line x1="520.94" y1="346.50" x2="520.94" y2="345.30" stroke="#262626" stroke-width="1" />
<line x1="520.94" y1="212.50" x2="520.94" y2="213.70" stroke="#262626" stroke-width="1" />
<line x1="528.16" y1="346.50" x2="528.16" y2="345.30" stroke="#262626" stroke-width="1" />
<line x1="528.16" y1="212.50" x2="528.16" y2="213.70" stroke="#262626" stroke-width="1" />
<line x1="533.28" y1="346.50" x2="533.28" y2="345.30" stroke="#262626" stroke-width="1" />
<line x1="533.28" y1="212.50" x2="533.28" y2="213.70" stroke="#262626" stroke-width="1" />
<line x1="537.26" y1="346.50" x2="537.26" y2="345.30" stroke="#262626" stroke-width="1" />
<line x1="537.26" y1="212.50" x2="537.26" y2="213.70" stroke="#262626" stroke-width="1" />
<line x1="540.50" y1="346.50" x2="540.50" y2="345.30" stroke="#262626" stroke-width="1" />
<line x1="540.50" y1="212.50" x2="540.50" y2="213.70" stroke="#262626" stroke-width="1" />
<line x1="543.25" y1="346.50" x2="543.25" y2="345.30" stroke="#262626" stroke-width="1" />
<line x1="543.25" y1="212.50" x2="543.25" y2="213.70" stroke="#262626" stroke-width="1" />
<line x1="545.63" y1="346.50" x2="545.63" y2="345.30" stroke="#262626" stroke-width="1" />
<line x1="545.63" y1="212.50" x2="545.63" y2="213.70" stroke="#262626" stroke-width="1" />
<line x1="547.72" y1="346.50" x2="547.72" y2="345.30" stroke="#262626" stroke-width="1" />
<line x1="547.72" y1="212.50" x2="547.72" y2="213.70" stroke="#262626" stroke-width="1" />
<line x1="549.60" y1="346.50" x2="549.60" y2="344.10" stroke="#262626" stroke-width="1" />
<line x1="549.60" y1="212.50" x2="549.60" y2="214.90" stroke="#262626" stroke-width="1" />
<line x1="561.94" y1="346.50" x2="561.94" y2="345.30" stroke="#262626" stroke-width="1" />
<line x1="561.94" y1="212.50" x2="561.94" y2="213.70" stroke="#262626" stroke-width="1" />
<line x1="569.16" y1="346.50" x2="569.16" y2="345.30" stroke="#262626" stroke-width="1" />
<line x1="569.16" y1="212.50" x2="569.16" y2="213.70" stroke="#262626" stroke-width="1" />
<line x1="574.28" y1="346.50" x2="574.28" y2="345.30" stroke="#262626" stroke-width="1" />
<line x1="574.28" y1="212.50" x2="574.28" y2="213.70" stroke="#262626" stroke-width="1" />
<line x1="578.26" y1="346.50" x2="578.26" y2="345.30" stroke="#262626" stroke-width="1" />
<line x1="578.26" y1="212.50" x2="578.26" y2="213.70" stroke="#262626" stroke-width="1" />
<line x1="581.50" y1="346.50" x2="581.50" y2="345.30" stroke="#262626" stroke-width="1" />
<line x1="581.50" y1="212.50" x2="581.50" y2="213.70" stroke="#262626" stroke-width="1" />
<line x1="584.25" y1="346.50" x2="584.25" y2="345.30" stroke="#262626" stroke-width="1" />
<line x1="584.25" y1="212.50" x2="584.25" y2="213.70" stroke="#262626" stroke-width="1" />
<line x1="586.63" y1="346.50" x2="586.63" y2="345.30" stroke="#262626" stroke-width="1" />
<line x1="586.63" y1="212.50" x2="586.63" y2="213.70" stroke="#262626" stroke-width="1" />
<line x1="588.72" y1="346.50" x2="588.72" y2="345.30" stroke="#262626" stroke-width="1" />
<line x1="588.72" y1="212.50" x2="588.72" y2="213.70" stroke="#262626" stroke-width="1" />
<line x1="590.60" y1="346.50" x2="590.60" y2="344.10" stroke="#262626" stroke-width="1" />
<line x1="590.60" y1="212.50" x2="590.60" y2="214.90" stroke="#262626" stroke-width="1" />
<line x1="602.94" y1="346.50" x2="602.94" y2="345.30" stroke="#262626" stroke-width="1" />
<line x1="602.94" y1="212.50" x2="602.94" y2="213.70" stroke="#262626" stroke-width="1" />
<line x1="610.16" y1="346.50" x2="610.16" y2="345.30" stroke="#262626" stroke-width="1" />
<line x1="610.16" y1="212.50" x2="610.16" y2="213.70" stroke="#262626" stroke-width="1" />
<line x1="615.28" y1="346.50" x2="615.28" y2="345.30" stroke="#262626" stroke-width="1" />
<line x1="615.28" y1="212.50" x2="615.28" y2="213.70" stroke="#262626" stroke-width="1" />
<line x1="619.26" y1="346.50" x2="619.26" y2="345.30" stroke="#262626" stroke-width="1" />
<line x1="619.26" y1="212.50" x2="619.26" y2="213.70" stroke="#262626" stroke-width="1" />
<line x1="622.50" y1="346.50" x2="622.50" y2="345.30" stroke="#262626" stroke-width="1" />
<line x1="622.50" y1="212.50" x2="622.50" y2="213.70" stroke="#262626" stroke-width="1" />
<line x1="625.25" y1="346.50" x2="625.25" y2="345.30" stroke="#262626" stroke-width="1" />
<line x1="625.25" y1="212.50" x2="625.25" y2="213.70" stroke="#262626" stroke-width="1" />
<line x1="627.63" y1="346.50" x2="627.63" y2="345.30" stroke="#262626" stroke-width="1" />
<line x1="627.63" y1="212.50" x2="627.63" y2="213.70" stroke="#262626" stroke-width="1" />
<line x1="629.72" y1="346.50" x2="629.72" y2="345.30" stroke="#262626" stroke-width="1" />
<line x1="629.72" y1="212.50" x2="629.72" y2="213.70" stroke="#262626" stroke-width="1" />
<line x1="631.60" y1="346.50" x2="631.60" y2="344.10" stroke="#262626" stroke-width="1" />
<line x1="631.60" y1="212.50" x2="631.60" y2="214.90" stroke="#262626" stroke-width="1" />
<line x1="508.50" y1="319.70" x2="511.10" y2="319.70" stroke="#262626" stroke-width="1" />
<line x1="640.90" y1="319.70" x2="643.50" y2="319.70" stroke="#262626" stroke-width="1" />
<line x1="508.50" y1="292.90" x2="511.10" y2="292.90" stroke="#262626" stroke-width="1" />
<line x1="640.90" y1="292.90" x2="643.50" y2="292.90" stroke="#262626" stroke-width="1" />
<line x1="508.50" y1="266.10" x2="511.10" y2="266.10" stroke="#262626" stroke-width="1" />
<line x1="640.90" y1="266.10" x2="643.50" y2="266.10" stroke="#262626" stroke-width="1" />
<line x1="508.50" y1="239.30" x2="511.10" y2="239.30" stroke="#262626" stroke-width="1" />
<line x1="640.90" y1="239.30" x2="643.50" y2="239.30" stroke="#262626" stroke-width="1" />
<text class="b" x="647.20" y="350.00" font-size="9.8" text-anchor="start" fill="#000">0</text>
<text class="b" x="647.20" y="323.20" font-size="9.8" text-anchor="start" fill="#000">0.2</text>
<text class="b" x="647.20" y="296.40" font-size="9.8" text-anchor="start" fill="#000">0.4</text>
<text class="b" x="647.20" y="269.60" font-size="9.8" text-anchor="start" fill="#000">0.6</text>
<text class="b" x="647.20" y="242.80" font-size="9.8" text-anchor="start" fill="#000">0.8</text>
<text class="b" x="647.20" y="216.00" font-size="9.8" text-anchor="start" fill="#000">1</text>
<text class="b" x="508.50" y="362.90" font-size="9.8" text-anchor="middle" fill="#000">10<tspan font-size="8.4" dy="-5">18</tspan></text>
<text class="b" x="549.50" y="362.90" font-size="9.8" text-anchor="middle" fill="#000">10<tspan font-size="8.4" dy="-5">19</tspan></text>
<text class="b" x="590.50" y="362.90" font-size="9.8" text-anchor="middle" fill="#000">10<tspan font-size="8.4" dy="-5">20</tspan></text>
<text class="b" x="631.50" y="362.90" font-size="9.8" text-anchor="middle" fill="#000">10<tspan font-size="8.4" dy="-5">21</tspan></text>
<text class="b" x="576.20" y="381.00" font-size="11.1" text-anchor="middle" fill="#000">n (cm<tspan font-size="8" dy="-4.8">-3</tspan><tspan dy="4.8">)</tspan></text>
<text transform="translate(673.2,279) rotate(-90)" font-size="10.9" text-anchor="middle">I<tspan font-size="8.2" dy="2.8">TO</tspan><tspan dy="-2.8">(1.5K)/I</tspan><tspan font-size="8.2" dy="2.8">TA</tspan><tspan dy="-2.8">(150K)</tspan></text>
<text class="b" x="628.60" y="229.20" font-size="10" text-anchor="start" fill="#000">e)</text>
<line x1="523.80" y1="215.30" x2="523.80" y2="249.20" stroke="#74b4e2" stroke-width="0.9" />
<line x1="521.20" y1="215.30" x2="526.40" y2="215.30" stroke="#74b4e2" stroke-width="0.9" />
<line x1="521.20" y1="249.20" x2="526.40" y2="249.20" stroke="#74b4e2" stroke-width="0.9" />
<circle cx="523.80" cy="232.10" r="3.5" fill="#0072BD" stroke="none" stroke-width="1"/>
<line x1="564.10" y1="221.60" x2="564.10" y2="254.10" stroke="#74b4e2" stroke-width="0.9" />
<line x1="561.50" y1="221.60" x2="566.70" y2="221.60" stroke="#74b4e2" stroke-width="0.9" />
<line x1="561.50" y1="254.10" x2="566.70" y2="254.10" stroke="#74b4e2" stroke-width="0.9" />
<circle cx="564.10" cy="238.00" r="3.5" fill="#0072BD" stroke="none" stroke-width="1"/>
<line x1="599.80" y1="266.80" x2="599.80" y2="287.10" stroke="#74b4e2" stroke-width="0.9" />
<line x1="597.20" y1="266.80" x2="602.40" y2="266.80" stroke="#74b4e2" stroke-width="0.9" />
<line x1="597.20" y1="287.10" x2="602.40" y2="287.10" stroke="#74b4e2" stroke-width="0.9" />
<circle cx="599.80" cy="277.30" r="3.5" fill="#0072BD" stroke="none" stroke-width="1"/>
<line x1="631.30" y1="307.40" x2="631.30" y2="317.60" stroke="#c45b74" stroke-width="0.9" />
<line x1="628.70" y1="307.40" x2="633.90" y2="307.40" stroke="#c45b74" stroke-width="0.9" />
<line x1="628.70" y1="317.60" x2="633.90" y2="317.60" stroke="#c45b74" stroke-width="0.9" />
<circle cx="631.30" cy="312.30" r="3.5" fill="#A2142F" stroke="none" stroke-width="1"/>
<line x1="35.50" y1="56.50" x2="182.00" y2="56.50" stroke="#3a3a3a" stroke-width="1" />
<line x1="35.50" y1="346.50" x2="182.00" y2="346.50" stroke="#3a3a3a" stroke-width="1" />
<line x1="36.00" y1="56.50" x2="36.00" y2="346.50" stroke="#7c7c7c" stroke-width="1" />
<line x1="181.50" y1="56.50" x2="181.50" y2="346.50" stroke="#3a3a3a" stroke-width="1" />
<line x1="225.50" y1="58.50" x2="493.50" y2="58.50" stroke="#3a3a3a" stroke-width="1" />
<line x1="225.50" y1="191.50" x2="493.50" y2="191.50" stroke="#3a3a3a" stroke-width="1" />
<line x1="226.00" y1="58.50" x2="226.00" y2="191.50" stroke="#7c7c7c" stroke-width="1" />
<line x1="493.00" y1="58.50" x2="493.00" y2="191.50" stroke="#7c7c7c" stroke-width="1" />
<line x1="225.50" y1="210.50" x2="493.50" y2="210.50" stroke="#3a3a3a" stroke-width="1" />
<line x1="225.50" y1="343.50" x2="493.50" y2="343.50" stroke="#3a3a3a" stroke-width="1" />
<line x1="226.00" y1="210.50" x2="226.00" y2="343.50" stroke="#7c7c7c" stroke-width="1" />
<line x1="493.00" y1="210.50" x2="493.00" y2="343.50" stroke="#7c7c7c" stroke-width="1" />
<line x1="508.00" y1="57.50" x2="644.00" y2="57.50" stroke="#3a3a3a" stroke-width="1" />
<line x1="508.00" y1="191.50" x2="644.00" y2="191.50" stroke="#3a3a3a" stroke-width="1" />
<line x1="508.50" y1="57.50" x2="508.50" y2="191.50" stroke="#3a3a3a" stroke-width="1" />
<line x1="643.50" y1="57.50" x2="643.50" y2="191.50" stroke="#3a3a3a" stroke-width="1" />
<line x1="508.00" y1="212.50" x2="644.00" y2="212.50" stroke="#3a3a3a" stroke-width="1" />
<line x1="508.00" y1="346.50" x2="644.00" y2="346.50" stroke="#3a3a3a" stroke-width="1" />
<line x1="508.50" y1="212.50" x2="508.50" y2="346.50" stroke="#3a3a3a" stroke-width="1" />
<line x1="643.50" y1="212.50" x2="643.50" y2="346.50" stroke="#3a3a3a" stroke-width="1" />
</svg></body></html>
